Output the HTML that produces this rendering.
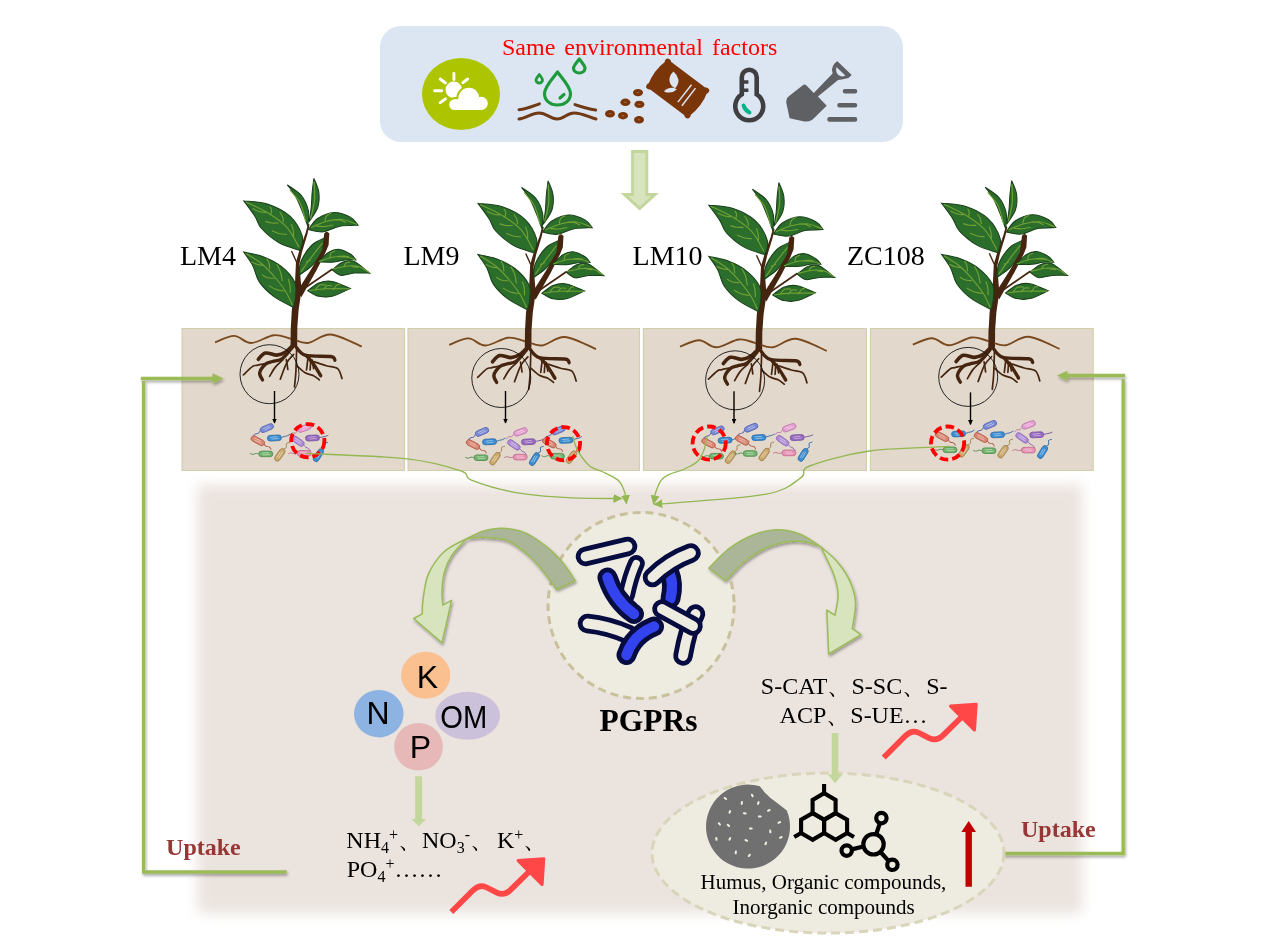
<!DOCTYPE html>
<html><head><meta charset="utf-8"><style>
html,body{margin:0;padding:0;background:#fff;}
svg{display:block;will-change:transform;}
text{font-family:"Liberation Serif",serif;}
.sans{font-family:"Liberation Sans",sans-serif;}
</style></head><body>
<svg width="1269" height="952" viewBox="0 0 1269 952">
<defs>
<filter id="soft" x="-5%" y="-5%" width="110%" height="110%"><feGaussianBlur stdDeviation="6.5"/></filter>
<filter id="shad" x="-20%" y="-20%" width="140%" height="140%"><feGaussianBlur in="SourceAlpha" stdDeviation="1.6"/><feOffset dx="1.2" dy="2.2"/><feComponentTransfer><feFuncA type="linear" slope="0.35"/></feComponentTransfer><feMerge><feMergeNode/><feMergeNode in="SourceGraphic"/></feMerge></filter>

<marker id="ah" viewBox="0 0 10 10" refX="9" refY="5" markerWidth="5" markerHeight="5" markerUnits="userSpaceOnUse" orient="auto"><path d="M0,0 L10,5 L0,10 Z" fill="#000"/></marker>
<marker id="gah" viewBox="0 0 10 10" refX="9.5" refY="5" markerWidth="9" markerHeight="10" markerUnits="userSpaceOnUse" orient="auto"><path d="M0,0 L10,5 L0,10 Z" fill="#93b752"/></marker>
</defs>
<rect x="380" y="26" width="523" height="116" rx="21" fill="#dce6f2"/>
<text x="502" y="55.4" font-size="24" fill="#ff0000" style="word-spacing:3px">Same environmental factors</text>
<ellipse cx="461" cy="94" rx="39" ry="36" fill="#adc500"/>
<circle cx="453.8" cy="89.8" r="8.3" fill="#ffffff"/>
<path d="M453.9,73.4 L453.9,79.6 M434.6,90.8 L441.7,90.8 M440.2,79 L445.5,83 M467.7,79 L462.9,82.6 M440.2,102.7 L445.5,98.8" stroke="#ffffff" stroke-width="2.9" stroke-linecap="round" fill="none"/>
<g fill="#adc500"><circle cx="468.9" cy="98.4" r="12.6"/><circle cx="481.2" cy="103.4" r="8.6"/><circle cx="454.6" cy="104.6" r="7.4"/><rect x="452.6" y="97.2" width="30.6" height="14.8" rx="2.0"/></g>
<g fill="#ffffff"><circle cx="468.9" cy="98.4" r="10.6"/><circle cx="481.2" cy="103.4" r="6.6"/><circle cx="454.6" cy="104.6" r="5.4"/><rect x="454.6" y="99.2" width="26.6" height="10.8" rx="0"/></g>
<g fill="none" stroke="#1e9a3c" stroke-width="3.2" stroke-linecap="round" stroke-linejoin="round">
<path d="M557.5,72 C552,79 544.5,87 544.5,93.5 C544.5,100.5 550,105 557.5,105 C565,105 570.5,100.5 570.5,93.5 C570.5,87 563,79 557.5,72 Z"/>
<path d="M560,98 L564,94.5" />
<path d="M579.3,59 C576,63 573.5,66 573.5,68 C573.5,71 576,73 579.3,73 C582.5,73 585,71 585,68 C585,66 582.5,63 579.3,59 Z"/>
<path d="M539.3,74.5 C537.5,77 536,78.5 536,80 C536,81.8 537.5,83 539.3,83 C541,83 542.5,81.8 542.5,80 C542.5,78.5 541,77 539.3,74.5 Z" stroke-width="2.8"/>
</g>
<g fill="none" stroke="#703a16" stroke-width="3" stroke-linecap="round">
<path d="M519,109.7 C526,109 532,106.5 539.4,103.8"/>
<path d="M575,104.6 C582,107 589,109 595.7,110"/>
<path d="M519,119 C526,118 532,113 539,113 C547,113 550,119 557,119 C564,119 567,113 574,113 C583,113 589,117.5 596,119"/>
</g>
<g fill="#7a3508">
<ellipse cx="638" cy="92.6" rx="5" ry="3.7"/><ellipse cx="638" cy="92.6" rx="1.4" ry="0.7" fill="#9a6a48"/>
<ellipse cx="625.4" cy="102.3" rx="5" ry="3.7"/><ellipse cx="625.4" cy="102.3" rx="1.4" ry="0.7" fill="#9a6a48"/>
<ellipse cx="639.4" cy="104.4" rx="5" ry="3.7"/><ellipse cx="639.4" cy="104.4" rx="1.4" ry="0.7" fill="#9a6a48"/>
<ellipse cx="610" cy="113.8" rx="5" ry="3.7"/><ellipse cx="610" cy="113.8" rx="1.4" ry="0.7" fill="#9a6a48"/>
<ellipse cx="623" cy="115.7" rx="5" ry="3.7"/><ellipse cx="623" cy="115.7" rx="1.4" ry="0.7" fill="#9a6a48"/>
<ellipse cx="639" cy="119.8" rx="5" ry="3.7"/><ellipse cx="639" cy="119.8" rx="1.4" ry="0.7" fill="#9a6a48"/>
</g>
<g transform="translate(677.7,88.5) rotate(37)">
<path d="M-23.5,-15 L23.5,-15 Q28,0 23.5,15 L-23.5,15 Q-28,0 -23.5,-15 Z" fill="#7a3508" stroke="#7a3508" stroke-width="4.5" stroke-linejoin="round"/>
<circle cx="-24" cy="-15.5" r="3" fill="#7a3508"/><circle cx="-24" cy="15.5" r="3" fill="#7a3508"/><circle cx="24" cy="-15.5" r="3" fill="#7a3508"/><circle cx="24" cy="15.5" r="3" fill="#7a3508"/>
</g>
<path d="M673.5,71.5 Q668.5,76 669.6,81.5 Q670.5,86 675.3,88.3 Q678.8,84 678.4,79.5 Q677.5,75 673.5,71.5 Z" fill="#dce6f2"/>
<path d="M663.9,91.4 Q667.5,87 674,87.8 L676.8,89.6 Q671.5,94.5 663.9,91.4 Z" fill="#dce6f2"/>
<path d="M677.9,102.1 L691.5,84.8 M681.9,105.7 L695.5,88.1" stroke="#dce6f2" stroke-width="1.5"/>
<g fill="none" stroke="#3f3f42" stroke-width="4.6" stroke-linecap="round">
<path d="M741.8,94.4 L741.8,77.2 A7.45,7.45 0 0 1 756.7,77.2 L756.7,94.4 A14,14 0 1 1 741.8,94.4 Z"/>
<path d="M743.5,82 L748.4,82 M743.5,90.2 L748.4,90.2" stroke-width="3.4" stroke-linecap="butt"/>
</g>
<path d="M743.6,105.5 Q745,110.5 749.5,112.5" fill="none" stroke="#00b386" stroke-width="4" stroke-linecap="round"/>
<path d="M803.5,84.8 Q805,84 806.5,85.5 L813.8,92.9 L832.6,73.4 Q831.5,70 832.2,68.2 Q833.5,63.5 837.4,61.25 L851.7,74.9 Q849,78.2 846.2,78.5 Q841.5,79.8 838.1,80 L817.9,96.5 L826.7,105.7 L812.4,119.7 Q808.5,122 804.3,121.5 L789.6,118.2 L786.3,102.8 Q786,98.5 788.8,96.2 Z M836.3,67.1 L845.4,75.6 Q843,76.8 841,76.3 Q837.5,75.5 836.6,72.6 Q835.8,69.5 836.3,67.1 Z" fill="#5f6064" fill-rule="evenodd"/>
<path d="M845,91.3 L855,91.3 M839.5,105.2 L855,105.2 M829.5,119.4 L855,119.4" stroke="#5f6064" stroke-width="4.6" stroke-linecap="round"/>
<path d="M632.6,151.6 L646.8,151.6 L646.8,194.5 L655,194.5 L639.7,208.5 L624.5,194.5 L632.6,194.5 Z" fill="#d7e4bd" stroke="#c3d69b" stroke-width="3"/>
<text x="180" y="264.6" font-size="28">LM4</text>
<text x="403.5" y="265.3" font-size="28">LM9</text>
<text x="632.6" y="265" font-size="28">LM10</text>
<text x="847" y="265" font-size="28">ZC108</text>
<rect x="197.5" y="485" width="884.5" height="428" fill="#ebe3de" filter="url(#soft)"/>
<rect x="182" y="328.5" width="222.5" height="142" fill="#e3d8cc" stroke="#cdd0ab" stroke-width="1.1"/>
<rect x="408" y="328.5" width="231.5" height="142" fill="#e3d8cc" stroke="#cdd0ab" stroke-width="1.1"/>
<rect x="643.4" y="328.5" width="223.1" height="142" fill="#e3d8cc" stroke="#cdd0ab" stroke-width="1.1"/>
<rect x="870.4" y="328.5" width="222.8" height="142" fill="#e3d8cc" stroke="#cdd0ab" stroke-width="1.1"/>
<g transform="translate(0,0)"><path d="M290.6,345 L290.8,328 L291.8,310 L294.5,293 L296,262 L299.5,250 L305.6,233 L308,224 L309.6,224.6 L307.5,234 L302,252 L299.4,264 L301.5,290 L298.6,310 L297.3,328 L297.2,345 Z" fill="#45250f"/>
<path d="M300.5,291 L332.5,269" stroke="#45250f" stroke-width="1.7" fill="none"/>
<path d="M296.5,262 L291.5,251" stroke="#45250f" stroke-width="1.4" fill="none"/>
<path d="M243.8,200.9 C247.9,201.4 260.4,201.6 268.1,204.2 C275.8,206.8 284.5,211 290.2,216.3 C295.9,221.6 300.6,230.5 302.3,236.2 C304,241.9 300.5,248.1 300.1,250.5 L300.1,250.5 C296.6,249.2 285.5,246.5 279.1,242.8 C272.7,239.1 265.5,232.9 261.5,228.5 C257.5,224.1 257.9,220.9 254.9,216.3 C252,211.7 245.7,203.5 243.8,200.9 Z" fill="#2b6e2b" stroke="#19401a" stroke-width="1.05"/>
<path d="M287.4,184.9 C289.7,186.7 297.7,191.1 301.2,195.4 C304.7,199.7 307.3,205.7 308.4,210.8 C309.5,216 307.9,223.7 307.8,226.3 L307.8,226.3 C307.1,224.3 305.4,219.1 303.4,214.1 C301.4,209.1 298.4,201.4 295.7,196.5 C293,191.6 288.8,186.8 287.4,184.9 Z" fill="#2b6e2b" stroke="#19401a" stroke-width="1.05"/>
<path d="M313.9,178.3 C314.7,180.6 318.2,187.2 318.8,192.1 C319.4,197 319.4,202.5 317.7,207.5 C316,212.5 310.4,219.5 308.9,221.9 L308.9,221.9 C309.3,219.7 310.6,213.6 311.1,208.6 C311.7,203.6 311.7,197.1 312.2,192.1 C312.7,187.1 313.6,180.6 313.9,178.3 Z" fill="#2b6e2b" stroke="#19401a" stroke-width="1.05"/>
<path d="M325.8,237.5 C323.5,238.8 316.1,241.1 312,245 C307.9,248.9 303.4,255.9 301.2,261 C299,266.1 299.4,272.9 299,275.3 L299,275.3 C301.2,273.6 308.4,269.3 312.2,265.4 C316,261.5 319.7,256.6 322,252 C324.3,247.3 325.2,239.9 325.8,237.5 Z" fill="#2b6e2b" stroke="#19401a" stroke-width="1.05"/>
<path d="M243.8,252.1 C246.9,252.8 256.4,254.1 262.6,256.5 C268.9,258.9 276,262.3 281.3,266.5 C286.6,270.7 292.2,277.1 294.6,281.9 C297,286.7 295.9,291 295.7,295.2 C295.5,299.4 293.9,305.3 293.5,307.3 L293.5,307.3 C290.2,305.5 279.3,300.5 273.6,296.3 C267.9,292.1 262.8,287 259.3,281.9 C255.8,276.8 255.3,270.4 252.7,265.4 C250.1,260.4 245.3,254.3 243.8,252.1 Z" fill="#2b6e2b" stroke="#19401a" stroke-width="1.05"/>
<path d="M296.5,292.5 L312.2,267.6 L322.2,249.9 L324.2,233.5 Q326.7,229.8 329.3,233.5 L328.6,245 L325.7,252.1 L316.8,269.8 L301.5,297 Z" fill="#45250f"/>
<path d="M358,225.2 C356.8,223.9 354.8,219.5 350.8,217.4 C346.9,215.3 339.8,212.3 334.3,212.5 C328.8,212.7 322,215.7 317.7,218.5 C313.4,221.3 309.9,227.8 308.4,229.6 L308.4,229.6 C310.9,230 318.1,232.4 323.3,231.8 C328.5,231.2 334,227.4 339.8,226.3 C345.6,225.2 355,225.4 358,225.2 Z" fill="#2b6e2b" stroke="#19401a" stroke-width="1.05"/>
<path d="M355.8,259.9 C355,259 353.5,256.1 350.8,254.3 C348.1,252.6 343.5,249.8 339.8,249.4 C336.1,249 332.4,250 328.8,252.1 C325.2,254.2 320.1,260.4 318.3,262 L318.3,262 C321,262 329.8,262.4 334.3,262 C338.8,261.6 341.7,260.2 345.3,259.9 C348.9,259.5 354.1,259.9 355.8,259.9 Z" fill="#2b6e2b" stroke="#19401a" stroke-width="1.05"/>
<path d="M369.6,273.1 C367,271.2 358.6,263.3 354.2,261.5 C349.8,259.7 346.8,260.7 343.1,262.1 C339.4,263.5 333.9,268.5 332.1,269.8 L332.1,269.8 C333.6,270.7 337.2,274.8 340.9,275.3 C344.6,275.9 349.4,273.5 354.2,273.1 C359,272.7 367,273.1 369.6,273.1 Z" fill="#2b6e2b" stroke="#19401a" stroke-width="1.05"/>
<path d="M350.3,288.5 C347.3,287.3 337.4,282.3 332.1,281.4 C326.9,280.5 322.9,281.4 318.8,283 C314.8,284.6 309.6,289.4 307.8,290.7 L307.8,290.7 C309.6,291.6 314.8,295.4 318.8,296.3 C322.9,297.2 326.9,297.6 332.1,296.3 C337.4,295 347.3,289.8 350.3,288.5 Z" fill="#2b6e2b" stroke="#19401a" stroke-width="1.05"/>
<path d="M246,202 C249.7,203.8 261.3,208.8 268.1,213 C274.9,217.2 281.8,221.7 286.9,227.4 C292,233.1 297,243.9 299,247.2 M252.7,208.6 C253.8,209.1 256.8,210.8 259,211.5 C261.2,212.2 264.8,212.3 265.9,212.5 M265.3,221.3 C266.4,221.6 269.8,222.7 272,223 C274.2,223.3 277.5,223 278.6,223 M272,230.7 C273.2,231.2 276.5,232.9 279,233.5 C281.5,234.1 285.6,234.3 286.9,234.5 M269.8,206.4 C270.1,207 271.3,208.7 271.5,210 C271.7,211.3 271,213.4 270.9,214.1 M279.7,211.9 C280.2,212.7 281.9,214.8 282.5,216.5 C283.1,218.2 283.3,221 283.5,221.9 M291.3,224.1 C291.6,225.1 292.8,228 293.2,230 C293.6,232 293.4,235.2 293.5,236.2 M246,253.5 C248.7,255.2 257,259.8 262,264 C267,268.2 272,273.8 276,278.5 C280,283.2 283.3,287.6 286,292 C288.7,296.4 291.3,302.9 292.4,305.1 M251.5,262.1 C252.5,262.5 255.5,263.9 257.5,264.5 C259.5,265.1 262.7,265.2 263.7,265.4 M262.1,274.7 C262.9,275.2 265,276.9 267,277.5 C269,278.1 273.1,278.3 274.3,278.5 M268.9,285.7 C270.1,286.3 273.4,288.6 276,289.5 C278.6,290.4 283,290.8 284.4,291.1 M266.8,258.4 C267.2,259.2 268.5,261.2 269,263 C269.5,264.8 269.6,267.9 269.7,268.9 M276.8,264.2 C277.4,265.5 279.6,269.2 280.5,272 C281.4,274.8 282,279.5 282.3,281 M288.2,279 C288.5,280.1 289.6,283.2 290,285.5 C290.4,287.8 290.2,291.6 290.3,292.8 M311,227.5 C313.5,226.5 320.8,222.8 326,221.5 C331.2,220.2 336.8,219 342,219.5 C347.2,220 354.5,223.7 357,224.5 M325,221 C325.2,220.2 325.5,217.3 326.5,216 C327.5,214.7 330.2,213.5 331,213 M334,219.5 C335,219.6 338,219.5 340,220 C342,220.5 345,222.1 346,222.5 M316,226 C317.3,226.1 321.2,226.7 324,226.5 C326.8,226.3 331.5,225.2 333,225 M319,261.5 C321.3,260.8 328.5,257.8 333,257 C337.5,256.2 342.3,256.6 346,257 C349.7,257.4 353.5,259.1 355,259.5 M330,258 C330.2,257.2 330.2,254.2 331,253 C331.8,251.8 334.3,251.3 335,251 M338,256.5 C339,256.4 342.2,255.9 344,256 C345.8,256.1 348.2,256.8 349,257 M333,269 C335.5,268.5 343.5,266.3 348,266 C352.5,265.7 356.5,265.9 360,267 C363.5,268.1 367.5,271.6 369,272.5 M344,266.5 C344.3,265.9 345,263.8 346,263 C347,262.2 349.3,262.2 350,262 M352,266.5 C353,266.7 357,267.3 358,267.5 M309,290.7 C311.7,290.4 318.2,289.1 325,288.8 C331.8,288.5 345.7,288.8 349.8,288.8 M315,290.5 C315.8,289.6 317.7,285.9 319.5,285 C321.3,284.1 324.9,284.8 326,284.8 M323,290 C323.7,289.3 325.5,286.5 327,285.8 C328.5,285.1 331.2,285.8 332,285.8 M333,290 C333.7,289.1 335.8,285.7 337,284.8 C338.2,283.9 339.5,284.6 340,284.5 M301,272 C302.5,269.8 306.4,263.8 310,259 C313.6,254.2 320.4,245.7 322.5,243 M306,262 C306.8,261.7 310.2,260.3 311,260 M290,190 C291.7,192.2 297.3,197.7 300,203 C302.7,208.3 305,218.8 306,222 M314,182 C314.1,185 315.1,193.8 314.5,200 C313.9,206.2 311.2,215.8 310.5,219" fill="none" stroke="#72a034" stroke-width="1.15"/><path d="M215,342.3 C218.2,341.2 228.2,335.8 234.2,335.9 C240.2,336 244.6,343.1 251.2,343 C257.8,342.9 267.3,335.9 273.9,335.2 C280.5,334.5 285.2,337.5 290.9,338.8 C296.6,340.1 301.3,343.7 307.9,343 C314.5,342.3 321.6,333.9 330.6,334.5 C339.6,335.1 356.6,344.6 361.8,346.6" fill="none" stroke="#7a4a1e" stroke-width="1.9"/>
<path d="M293.8,328 C293.8,330.8 293.7,341.8 293.7,344.5" fill="none" stroke="#45250f" stroke-width="5.6" stroke-linecap="round" stroke-linejoin="round"/>
<path d="M293.7,344.5 C292.3,345.8 288,350.5 285.2,352.3 C282.4,354.1 280,355 276.7,355.1 C273.4,355.2 268.5,352.3 265.4,353 C262.3,353.7 259.5,358.2 258.3,359.3" fill="none" stroke="#45250f" stroke-width="3.6" stroke-linecap="round" stroke-linejoin="round"/>
<path d="M292.3,347.3 C290.7,349.2 285.7,356.2 282.4,358.6 C279.1,361 275.3,360.6 272.5,361.5 C269.7,362.4 267.5,362.4 265.4,364.3 C263.3,366.2 260.2,370.2 259.7,372.8 C259.2,375.4 262,378.7 262.5,379.9" fill="none" stroke="#45250f" stroke-width="3.4" stroke-linecap="round" stroke-linejoin="round"/>
<path d="M295.3,345.9 C296.9,347.4 299.2,353.3 305.1,355.1 C311,356.9 325.6,355.7 330.6,356.5 C335.6,357.3 334.2,359.5 334.9,360.1" fill="none" stroke="#45250f" stroke-width="3.4" stroke-linecap="round" stroke-linejoin="round"/>
<path d="M306.5,355.8 C307.7,357.2 311.2,361 313.6,364.3 C316,367.6 319.5,373.8 320.7,375.7" fill="none" stroke="#45250f" stroke-width="3.4" stroke-linecap="round" stroke-linejoin="round"/>
<path d="M279.8,360 C277.9,360.5 272,362 268.2,362.9 C264.4,363.8 259.5,364.7 256.9,365.3 C254.3,365.9 254.9,364.8 252.6,366.4 C250.4,368 244.9,373.5 243.4,374.9" fill="none" stroke="#45250f" stroke-width="1.7" stroke-linecap="round"/>
<path d="M282.8,360 C281.6,361.2 277.5,364.4 275.3,367.1 C273.1,369.8 270.6,374.8 269.6,376.4" fill="none" stroke="#45250f" stroke-width="1.7" stroke-linecap="round"/>
<path d="M293.7,354.4 C292.5,355.8 288.9,358.8 286.7,362.9 C284.5,367 281.4,376.5 280.3,379.2" fill="none" stroke="#45250f" stroke-width="1.7" stroke-linecap="round"/>
<path d="M286.3,359.5 C286.6,361.2 287.6,367.8 287.8,369.5" fill="none" stroke="#45250f" stroke-width="1.7" stroke-linecap="round"/>
<path d="M296.6,349.5 C296.5,353.1 296.2,365.1 295.9,371.4 C295.6,377.6 294.7,384.4 294.5,387" fill="none" stroke="#45250f" stroke-width="1.7" stroke-linecap="round"/>
<path d="M313.6,361.5 C315.7,362.2 322.4,364.5 326.4,365.7 C330.4,366.9 335.1,366.5 337.7,368.6 C340.3,370.7 341.3,376.9 342,378.5" fill="none" stroke="#45250f" stroke-width="1.7" stroke-linecap="round"/>
<path d="M296.6,365.7 C298,366.9 302.3,371.1 305.1,372.8 C307.9,374.5 311.2,374.5 313.6,375.7 C316,376.9 318.4,379.2 319.3,379.9" fill="none" stroke="#45250f" stroke-width="1.7" stroke-linecap="round"/>
<path d="M307.9,358.6 C307.7,360.5 306.7,368.1 306.5,370" fill="none" stroke="#45250f" stroke-width="1.7" stroke-linecap="round"/>
<path d="M310.8,360.1 C310.7,361.8 310.2,368.4 310.1,370" fill="none" stroke="#45250f" stroke-width="1.7" stroke-linecap="round"/>
<path d="M312.2,360.1 C312.4,361.5 313.4,367.2 313.6,368.6" fill="none" stroke="#45250f" stroke-width="1.7" stroke-linecap="round"/></g>
<g transform="translate(234.2,2.5)"><path d="M290.6,345 L290.8,328 L291.8,310 L294.5,293 L296,262 L299.5,250 L305.6,233 L308,224 L309.6,224.6 L307.5,234 L302,252 L299.4,264 L301.5,290 L298.6,310 L297.3,328 L297.2,345 Z" fill="#45250f"/>
<path d="M300.5,291 L332.5,269" stroke="#45250f" stroke-width="1.7" fill="none"/>
<path d="M296.5,262 L291.5,251" stroke="#45250f" stroke-width="1.4" fill="none"/>
<path d="M243.8,200.9 C247.9,201.4 260.4,201.6 268.1,204.2 C275.8,206.8 284.5,211 290.2,216.3 C295.9,221.6 300.6,230.5 302.3,236.2 C304,241.9 300.5,248.1 300.1,250.5 L300.1,250.5 C296.6,249.2 285.5,246.5 279.1,242.8 C272.7,239.1 265.5,232.9 261.5,228.5 C257.5,224.1 257.9,220.9 254.9,216.3 C252,211.7 245.7,203.5 243.8,200.9 Z" fill="#2b6e2b" stroke="#19401a" stroke-width="1.05"/>
<path d="M287.4,184.9 C289.7,186.7 297.7,191.1 301.2,195.4 C304.7,199.7 307.3,205.7 308.4,210.8 C309.5,216 307.9,223.7 307.8,226.3 L307.8,226.3 C307.1,224.3 305.4,219.1 303.4,214.1 C301.4,209.1 298.4,201.4 295.7,196.5 C293,191.6 288.8,186.8 287.4,184.9 Z" fill="#2b6e2b" stroke="#19401a" stroke-width="1.05"/>
<path d="M313.9,178.3 C314.7,180.6 318.2,187.2 318.8,192.1 C319.4,197 319.4,202.5 317.7,207.5 C316,212.5 310.4,219.5 308.9,221.9 L308.9,221.9 C309.3,219.7 310.6,213.6 311.1,208.6 C311.7,203.6 311.7,197.1 312.2,192.1 C312.7,187.1 313.6,180.6 313.9,178.3 Z" fill="#2b6e2b" stroke="#19401a" stroke-width="1.05"/>
<path d="M325.8,237.5 C323.5,238.8 316.1,241.1 312,245 C307.9,248.9 303.4,255.9 301.2,261 C299,266.1 299.4,272.9 299,275.3 L299,275.3 C301.2,273.6 308.4,269.3 312.2,265.4 C316,261.5 319.7,256.6 322,252 C324.3,247.3 325.2,239.9 325.8,237.5 Z" fill="#2b6e2b" stroke="#19401a" stroke-width="1.05"/>
<path d="M243.8,252.1 C246.9,252.8 256.4,254.1 262.6,256.5 C268.9,258.9 276,262.3 281.3,266.5 C286.6,270.7 292.2,277.1 294.6,281.9 C297,286.7 295.9,291 295.7,295.2 C295.5,299.4 293.9,305.3 293.5,307.3 L293.5,307.3 C290.2,305.5 279.3,300.5 273.6,296.3 C267.9,292.1 262.8,287 259.3,281.9 C255.8,276.8 255.3,270.4 252.7,265.4 C250.1,260.4 245.3,254.3 243.8,252.1 Z" fill="#2b6e2b" stroke="#19401a" stroke-width="1.05"/>
<path d="M296.5,292.5 L312.2,267.6 L322.2,249.9 L324.2,233.5 Q326.7,229.8 329.3,233.5 L328.6,245 L325.7,252.1 L316.8,269.8 L301.5,297 Z" fill="#45250f"/>
<path d="M358,225.2 C356.8,223.9 354.8,219.5 350.8,217.4 C346.9,215.3 339.8,212.3 334.3,212.5 C328.8,212.7 322,215.7 317.7,218.5 C313.4,221.3 309.9,227.8 308.4,229.6 L308.4,229.6 C310.9,230 318.1,232.4 323.3,231.8 C328.5,231.2 334,227.4 339.8,226.3 C345.6,225.2 355,225.4 358,225.2 Z" fill="#2b6e2b" stroke="#19401a" stroke-width="1.05"/>
<path d="M355.8,259.9 C355,259 353.5,256.1 350.8,254.3 C348.1,252.6 343.5,249.8 339.8,249.4 C336.1,249 332.4,250 328.8,252.1 C325.2,254.2 320.1,260.4 318.3,262 L318.3,262 C321,262 329.8,262.4 334.3,262 C338.8,261.6 341.7,260.2 345.3,259.9 C348.9,259.5 354.1,259.9 355.8,259.9 Z" fill="#2b6e2b" stroke="#19401a" stroke-width="1.05"/>
<path d="M369.6,273.1 C367,271.2 358.6,263.3 354.2,261.5 C349.8,259.7 346.8,260.7 343.1,262.1 C339.4,263.5 333.9,268.5 332.1,269.8 L332.1,269.8 C333.6,270.7 337.2,274.8 340.9,275.3 C344.6,275.9 349.4,273.5 354.2,273.1 C359,272.7 367,273.1 369.6,273.1 Z" fill="#2b6e2b" stroke="#19401a" stroke-width="1.05"/>
<path d="M350.3,288.5 C347.3,287.3 337.4,282.3 332.1,281.4 C326.9,280.5 322.9,281.4 318.8,283 C314.8,284.6 309.6,289.4 307.8,290.7 L307.8,290.7 C309.6,291.6 314.8,295.4 318.8,296.3 C322.9,297.2 326.9,297.6 332.1,296.3 C337.4,295 347.3,289.8 350.3,288.5 Z" fill="#2b6e2b" stroke="#19401a" stroke-width="1.05"/>
<path d="M246,202 C249.7,203.8 261.3,208.8 268.1,213 C274.9,217.2 281.8,221.7 286.9,227.4 C292,233.1 297,243.9 299,247.2 M252.7,208.6 C253.8,209.1 256.8,210.8 259,211.5 C261.2,212.2 264.8,212.3 265.9,212.5 M265.3,221.3 C266.4,221.6 269.8,222.7 272,223 C274.2,223.3 277.5,223 278.6,223 M272,230.7 C273.2,231.2 276.5,232.9 279,233.5 C281.5,234.1 285.6,234.3 286.9,234.5 M269.8,206.4 C270.1,207 271.3,208.7 271.5,210 C271.7,211.3 271,213.4 270.9,214.1 M279.7,211.9 C280.2,212.7 281.9,214.8 282.5,216.5 C283.1,218.2 283.3,221 283.5,221.9 M291.3,224.1 C291.6,225.1 292.8,228 293.2,230 C293.6,232 293.4,235.2 293.5,236.2 M246,253.5 C248.7,255.2 257,259.8 262,264 C267,268.2 272,273.8 276,278.5 C280,283.2 283.3,287.6 286,292 C288.7,296.4 291.3,302.9 292.4,305.1 M251.5,262.1 C252.5,262.5 255.5,263.9 257.5,264.5 C259.5,265.1 262.7,265.2 263.7,265.4 M262.1,274.7 C262.9,275.2 265,276.9 267,277.5 C269,278.1 273.1,278.3 274.3,278.5 M268.9,285.7 C270.1,286.3 273.4,288.6 276,289.5 C278.6,290.4 283,290.8 284.4,291.1 M266.8,258.4 C267.2,259.2 268.5,261.2 269,263 C269.5,264.8 269.6,267.9 269.7,268.9 M276.8,264.2 C277.4,265.5 279.6,269.2 280.5,272 C281.4,274.8 282,279.5 282.3,281 M288.2,279 C288.5,280.1 289.6,283.2 290,285.5 C290.4,287.8 290.2,291.6 290.3,292.8 M311,227.5 C313.5,226.5 320.8,222.8 326,221.5 C331.2,220.2 336.8,219 342,219.5 C347.2,220 354.5,223.7 357,224.5 M325,221 C325.2,220.2 325.5,217.3 326.5,216 C327.5,214.7 330.2,213.5 331,213 M334,219.5 C335,219.6 338,219.5 340,220 C342,220.5 345,222.1 346,222.5 M316,226 C317.3,226.1 321.2,226.7 324,226.5 C326.8,226.3 331.5,225.2 333,225 M319,261.5 C321.3,260.8 328.5,257.8 333,257 C337.5,256.2 342.3,256.6 346,257 C349.7,257.4 353.5,259.1 355,259.5 M330,258 C330.2,257.2 330.2,254.2 331,253 C331.8,251.8 334.3,251.3 335,251 M338,256.5 C339,256.4 342.2,255.9 344,256 C345.8,256.1 348.2,256.8 349,257 M333,269 C335.5,268.5 343.5,266.3 348,266 C352.5,265.7 356.5,265.9 360,267 C363.5,268.1 367.5,271.6 369,272.5 M344,266.5 C344.3,265.9 345,263.8 346,263 C347,262.2 349.3,262.2 350,262 M352,266.5 C353,266.7 357,267.3 358,267.5 M309,290.7 C311.7,290.4 318.2,289.1 325,288.8 C331.8,288.5 345.7,288.8 349.8,288.8 M315,290.5 C315.8,289.6 317.7,285.9 319.5,285 C321.3,284.1 324.9,284.8 326,284.8 M323,290 C323.7,289.3 325.5,286.5 327,285.8 C328.5,285.1 331.2,285.8 332,285.8 M333,290 C333.7,289.1 335.8,285.7 337,284.8 C338.2,283.9 339.5,284.6 340,284.5 M301,272 C302.5,269.8 306.4,263.8 310,259 C313.6,254.2 320.4,245.7 322.5,243 M306,262 C306.8,261.7 310.2,260.3 311,260 M290,190 C291.7,192.2 297.3,197.7 300,203 C302.7,208.3 305,218.8 306,222 M314,182 C314.1,185 315.1,193.8 314.5,200 C313.9,206.2 311.2,215.8 310.5,219" fill="none" stroke="#72a034" stroke-width="1.15"/><path d="M215,342.3 C218.2,341.2 228.2,335.8 234.2,335.9 C240.2,336 244.6,343.1 251.2,343 C257.8,342.9 267.3,335.9 273.9,335.2 C280.5,334.5 285.2,337.5 290.9,338.8 C296.6,340.1 301.3,343.7 307.9,343 C314.5,342.3 321.6,333.9 330.6,334.5 C339.6,335.1 356.6,344.6 361.8,346.6" fill="none" stroke="#7a4a1e" stroke-width="1.9"/>
<path d="M293.8,328 C293.8,330.8 293.7,341.8 293.7,344.5" fill="none" stroke="#45250f" stroke-width="5.6" stroke-linecap="round" stroke-linejoin="round"/>
<path d="M293.7,344.5 C292.3,345.8 288,350.5 285.2,352.3 C282.4,354.1 280,355 276.7,355.1 C273.4,355.2 268.5,352.3 265.4,353 C262.3,353.7 259.5,358.2 258.3,359.3" fill="none" stroke="#45250f" stroke-width="3.6" stroke-linecap="round" stroke-linejoin="round"/>
<path d="M292.3,347.3 C290.7,349.2 285.7,356.2 282.4,358.6 C279.1,361 275.3,360.6 272.5,361.5 C269.7,362.4 267.5,362.4 265.4,364.3 C263.3,366.2 260.2,370.2 259.7,372.8 C259.2,375.4 262,378.7 262.5,379.9" fill="none" stroke="#45250f" stroke-width="3.4" stroke-linecap="round" stroke-linejoin="round"/>
<path d="M295.3,345.9 C296.9,347.4 299.2,353.3 305.1,355.1 C311,356.9 325.6,355.7 330.6,356.5 C335.6,357.3 334.2,359.5 334.9,360.1" fill="none" stroke="#45250f" stroke-width="3.4" stroke-linecap="round" stroke-linejoin="round"/>
<path d="M306.5,355.8 C307.7,357.2 311.2,361 313.6,364.3 C316,367.6 319.5,373.8 320.7,375.7" fill="none" stroke="#45250f" stroke-width="3.4" stroke-linecap="round" stroke-linejoin="round"/>
<path d="M279.8,360 C277.9,360.5 272,362 268.2,362.9 C264.4,363.8 259.5,364.7 256.9,365.3 C254.3,365.9 254.9,364.8 252.6,366.4 C250.4,368 244.9,373.5 243.4,374.9" fill="none" stroke="#45250f" stroke-width="1.7" stroke-linecap="round"/>
<path d="M282.8,360 C281.6,361.2 277.5,364.4 275.3,367.1 C273.1,369.8 270.6,374.8 269.6,376.4" fill="none" stroke="#45250f" stroke-width="1.7" stroke-linecap="round"/>
<path d="M293.7,354.4 C292.5,355.8 288.9,358.8 286.7,362.9 C284.5,367 281.4,376.5 280.3,379.2" fill="none" stroke="#45250f" stroke-width="1.7" stroke-linecap="round"/>
<path d="M286.3,359.5 C286.6,361.2 287.6,367.8 287.8,369.5" fill="none" stroke="#45250f" stroke-width="1.7" stroke-linecap="round"/>
<path d="M296.6,349.5 C296.5,353.1 296.2,365.1 295.9,371.4 C295.6,377.6 294.7,384.4 294.5,387" fill="none" stroke="#45250f" stroke-width="1.7" stroke-linecap="round"/>
<path d="M313.6,361.5 C315.7,362.2 322.4,364.5 326.4,365.7 C330.4,366.9 335.1,366.5 337.7,368.6 C340.3,370.7 341.3,376.9 342,378.5" fill="none" stroke="#45250f" stroke-width="1.7" stroke-linecap="round"/>
<path d="M296.6,365.7 C298,366.9 302.3,371.1 305.1,372.8 C307.9,374.5 311.2,374.5 313.6,375.7 C316,376.9 318.4,379.2 319.3,379.9" fill="none" stroke="#45250f" stroke-width="1.7" stroke-linecap="round"/>
<path d="M307.9,358.6 C307.7,360.5 306.7,368.1 306.5,370" fill="none" stroke="#45250f" stroke-width="1.7" stroke-linecap="round"/>
<path d="M310.8,360.1 C310.7,361.8 310.2,368.4 310.1,370" fill="none" stroke="#45250f" stroke-width="1.7" stroke-linecap="round"/>
<path d="M312.2,360.1 C312.4,361.5 313.4,367.2 313.6,368.6" fill="none" stroke="#45250f" stroke-width="1.7" stroke-linecap="round"/></g>
<g transform="translate(465,4.3)"><path d="M290.6,345 L290.8,328 L291.8,310 L294.5,293 L296,262 L299.5,250 L305.6,233 L308,224 L309.6,224.6 L307.5,234 L302,252 L299.4,264 L301.5,290 L298.6,310 L297.3,328 L297.2,345 Z" fill="#45250f"/>
<path d="M300.5,291 L332.5,269" stroke="#45250f" stroke-width="1.7" fill="none"/>
<path d="M296.5,262 L291.5,251" stroke="#45250f" stroke-width="1.4" fill="none"/>
<path d="M243.8,200.9 C247.9,201.4 260.4,201.6 268.1,204.2 C275.8,206.8 284.5,211 290.2,216.3 C295.9,221.6 300.6,230.5 302.3,236.2 C304,241.9 300.5,248.1 300.1,250.5 L300.1,250.5 C296.6,249.2 285.5,246.5 279.1,242.8 C272.7,239.1 265.5,232.9 261.5,228.5 C257.5,224.1 257.9,220.9 254.9,216.3 C252,211.7 245.7,203.5 243.8,200.9 Z" fill="#2b6e2b" stroke="#19401a" stroke-width="1.05"/>
<path d="M287.4,184.9 C289.7,186.7 297.7,191.1 301.2,195.4 C304.7,199.7 307.3,205.7 308.4,210.8 C309.5,216 307.9,223.7 307.8,226.3 L307.8,226.3 C307.1,224.3 305.4,219.1 303.4,214.1 C301.4,209.1 298.4,201.4 295.7,196.5 C293,191.6 288.8,186.8 287.4,184.9 Z" fill="#2b6e2b" stroke="#19401a" stroke-width="1.05"/>
<path d="M313.9,178.3 C314.7,180.6 318.2,187.2 318.8,192.1 C319.4,197 319.4,202.5 317.7,207.5 C316,212.5 310.4,219.5 308.9,221.9 L308.9,221.9 C309.3,219.7 310.6,213.6 311.1,208.6 C311.7,203.6 311.7,197.1 312.2,192.1 C312.7,187.1 313.6,180.6 313.9,178.3 Z" fill="#2b6e2b" stroke="#19401a" stroke-width="1.05"/>
<path d="M325.8,237.5 C323.5,238.8 316.1,241.1 312,245 C307.9,248.9 303.4,255.9 301.2,261 C299,266.1 299.4,272.9 299,275.3 L299,275.3 C301.2,273.6 308.4,269.3 312.2,265.4 C316,261.5 319.7,256.6 322,252 C324.3,247.3 325.2,239.9 325.8,237.5 Z" fill="#2b6e2b" stroke="#19401a" stroke-width="1.05"/>
<path d="M243.8,252.1 C246.9,252.8 256.4,254.1 262.6,256.5 C268.9,258.9 276,262.3 281.3,266.5 C286.6,270.7 292.2,277.1 294.6,281.9 C297,286.7 295.9,291 295.7,295.2 C295.5,299.4 293.9,305.3 293.5,307.3 L293.5,307.3 C290.2,305.5 279.3,300.5 273.6,296.3 C267.9,292.1 262.8,287 259.3,281.9 C255.8,276.8 255.3,270.4 252.7,265.4 C250.1,260.4 245.3,254.3 243.8,252.1 Z" fill="#2b6e2b" stroke="#19401a" stroke-width="1.05"/>
<path d="M296.5,292.5 L312.2,267.6 L322.2,249.9 L324.2,233.5 Q326.7,229.8 329.3,233.5 L328.6,245 L325.7,252.1 L316.8,269.8 L301.5,297 Z" fill="#45250f"/>
<path d="M358,225.2 C356.8,223.9 354.8,219.5 350.8,217.4 C346.9,215.3 339.8,212.3 334.3,212.5 C328.8,212.7 322,215.7 317.7,218.5 C313.4,221.3 309.9,227.8 308.4,229.6 L308.4,229.6 C310.9,230 318.1,232.4 323.3,231.8 C328.5,231.2 334,227.4 339.8,226.3 C345.6,225.2 355,225.4 358,225.2 Z" fill="#2b6e2b" stroke="#19401a" stroke-width="1.05"/>
<path d="M355.8,259.9 C355,259 353.5,256.1 350.8,254.3 C348.1,252.6 343.5,249.8 339.8,249.4 C336.1,249 332.4,250 328.8,252.1 C325.2,254.2 320.1,260.4 318.3,262 L318.3,262 C321,262 329.8,262.4 334.3,262 C338.8,261.6 341.7,260.2 345.3,259.9 C348.9,259.5 354.1,259.9 355.8,259.9 Z" fill="#2b6e2b" stroke="#19401a" stroke-width="1.05"/>
<path d="M369.6,273.1 C367,271.2 358.6,263.3 354.2,261.5 C349.8,259.7 346.8,260.7 343.1,262.1 C339.4,263.5 333.9,268.5 332.1,269.8 L332.1,269.8 C333.6,270.7 337.2,274.8 340.9,275.3 C344.6,275.9 349.4,273.5 354.2,273.1 C359,272.7 367,273.1 369.6,273.1 Z" fill="#2b6e2b" stroke="#19401a" stroke-width="1.05"/>
<path d="M350.3,288.5 C347.3,287.3 337.4,282.3 332.1,281.4 C326.9,280.5 322.9,281.4 318.8,283 C314.8,284.6 309.6,289.4 307.8,290.7 L307.8,290.7 C309.6,291.6 314.8,295.4 318.8,296.3 C322.9,297.2 326.9,297.6 332.1,296.3 C337.4,295 347.3,289.8 350.3,288.5 Z" fill="#2b6e2b" stroke="#19401a" stroke-width="1.05"/>
<path d="M246,202 C249.7,203.8 261.3,208.8 268.1,213 C274.9,217.2 281.8,221.7 286.9,227.4 C292,233.1 297,243.9 299,247.2 M252.7,208.6 C253.8,209.1 256.8,210.8 259,211.5 C261.2,212.2 264.8,212.3 265.9,212.5 M265.3,221.3 C266.4,221.6 269.8,222.7 272,223 C274.2,223.3 277.5,223 278.6,223 M272,230.7 C273.2,231.2 276.5,232.9 279,233.5 C281.5,234.1 285.6,234.3 286.9,234.5 M269.8,206.4 C270.1,207 271.3,208.7 271.5,210 C271.7,211.3 271,213.4 270.9,214.1 M279.7,211.9 C280.2,212.7 281.9,214.8 282.5,216.5 C283.1,218.2 283.3,221 283.5,221.9 M291.3,224.1 C291.6,225.1 292.8,228 293.2,230 C293.6,232 293.4,235.2 293.5,236.2 M246,253.5 C248.7,255.2 257,259.8 262,264 C267,268.2 272,273.8 276,278.5 C280,283.2 283.3,287.6 286,292 C288.7,296.4 291.3,302.9 292.4,305.1 M251.5,262.1 C252.5,262.5 255.5,263.9 257.5,264.5 C259.5,265.1 262.7,265.2 263.7,265.4 M262.1,274.7 C262.9,275.2 265,276.9 267,277.5 C269,278.1 273.1,278.3 274.3,278.5 M268.9,285.7 C270.1,286.3 273.4,288.6 276,289.5 C278.6,290.4 283,290.8 284.4,291.1 M266.8,258.4 C267.2,259.2 268.5,261.2 269,263 C269.5,264.8 269.6,267.9 269.7,268.9 M276.8,264.2 C277.4,265.5 279.6,269.2 280.5,272 C281.4,274.8 282,279.5 282.3,281 M288.2,279 C288.5,280.1 289.6,283.2 290,285.5 C290.4,287.8 290.2,291.6 290.3,292.8 M311,227.5 C313.5,226.5 320.8,222.8 326,221.5 C331.2,220.2 336.8,219 342,219.5 C347.2,220 354.5,223.7 357,224.5 M325,221 C325.2,220.2 325.5,217.3 326.5,216 C327.5,214.7 330.2,213.5 331,213 M334,219.5 C335,219.6 338,219.5 340,220 C342,220.5 345,222.1 346,222.5 M316,226 C317.3,226.1 321.2,226.7 324,226.5 C326.8,226.3 331.5,225.2 333,225 M319,261.5 C321.3,260.8 328.5,257.8 333,257 C337.5,256.2 342.3,256.6 346,257 C349.7,257.4 353.5,259.1 355,259.5 M330,258 C330.2,257.2 330.2,254.2 331,253 C331.8,251.8 334.3,251.3 335,251 M338,256.5 C339,256.4 342.2,255.9 344,256 C345.8,256.1 348.2,256.8 349,257 M333,269 C335.5,268.5 343.5,266.3 348,266 C352.5,265.7 356.5,265.9 360,267 C363.5,268.1 367.5,271.6 369,272.5 M344,266.5 C344.3,265.9 345,263.8 346,263 C347,262.2 349.3,262.2 350,262 M352,266.5 C353,266.7 357,267.3 358,267.5 M309,290.7 C311.7,290.4 318.2,289.1 325,288.8 C331.8,288.5 345.7,288.8 349.8,288.8 M315,290.5 C315.8,289.6 317.7,285.9 319.5,285 C321.3,284.1 324.9,284.8 326,284.8 M323,290 C323.7,289.3 325.5,286.5 327,285.8 C328.5,285.1 331.2,285.8 332,285.8 M333,290 C333.7,289.1 335.8,285.7 337,284.8 C338.2,283.9 339.5,284.6 340,284.5 M301,272 C302.5,269.8 306.4,263.8 310,259 C313.6,254.2 320.4,245.7 322.5,243 M306,262 C306.8,261.7 310.2,260.3 311,260 M290,190 C291.7,192.2 297.3,197.7 300,203 C302.7,208.3 305,218.8 306,222 M314,182 C314.1,185 315.1,193.8 314.5,200 C313.9,206.2 311.2,215.8 310.5,219" fill="none" stroke="#72a034" stroke-width="1.15"/><path d="M215,342.3 C218.2,341.2 228.2,335.8 234.2,335.9 C240.2,336 244.6,343.1 251.2,343 C257.8,342.9 267.3,335.9 273.9,335.2 C280.5,334.5 285.2,337.5 290.9,338.8 C296.6,340.1 301.3,343.7 307.9,343 C314.5,342.3 321.6,333.9 330.6,334.5 C339.6,335.1 356.6,344.6 361.8,346.6" fill="none" stroke="#7a4a1e" stroke-width="1.9"/>
<path d="M293.8,328 C293.8,330.8 293.7,341.8 293.7,344.5" fill="none" stroke="#45250f" stroke-width="5.6" stroke-linecap="round" stroke-linejoin="round"/>
<path d="M293.7,344.5 C292.3,345.8 288,350.5 285.2,352.3 C282.4,354.1 280,355 276.7,355.1 C273.4,355.2 268.5,352.3 265.4,353 C262.3,353.7 259.5,358.2 258.3,359.3" fill="none" stroke="#45250f" stroke-width="3.6" stroke-linecap="round" stroke-linejoin="round"/>
<path d="M292.3,347.3 C290.7,349.2 285.7,356.2 282.4,358.6 C279.1,361 275.3,360.6 272.5,361.5 C269.7,362.4 267.5,362.4 265.4,364.3 C263.3,366.2 260.2,370.2 259.7,372.8 C259.2,375.4 262,378.7 262.5,379.9" fill="none" stroke="#45250f" stroke-width="3.4" stroke-linecap="round" stroke-linejoin="round"/>
<path d="M295.3,345.9 C296.9,347.4 299.2,353.3 305.1,355.1 C311,356.9 325.6,355.7 330.6,356.5 C335.6,357.3 334.2,359.5 334.9,360.1" fill="none" stroke="#45250f" stroke-width="3.4" stroke-linecap="round" stroke-linejoin="round"/>
<path d="M306.5,355.8 C307.7,357.2 311.2,361 313.6,364.3 C316,367.6 319.5,373.8 320.7,375.7" fill="none" stroke="#45250f" stroke-width="3.4" stroke-linecap="round" stroke-linejoin="round"/>
<path d="M279.8,360 C277.9,360.5 272,362 268.2,362.9 C264.4,363.8 259.5,364.7 256.9,365.3 C254.3,365.9 254.9,364.8 252.6,366.4 C250.4,368 244.9,373.5 243.4,374.9" fill="none" stroke="#45250f" stroke-width="1.7" stroke-linecap="round"/>
<path d="M282.8,360 C281.6,361.2 277.5,364.4 275.3,367.1 C273.1,369.8 270.6,374.8 269.6,376.4" fill="none" stroke="#45250f" stroke-width="1.7" stroke-linecap="round"/>
<path d="M293.7,354.4 C292.5,355.8 288.9,358.8 286.7,362.9 C284.5,367 281.4,376.5 280.3,379.2" fill="none" stroke="#45250f" stroke-width="1.7" stroke-linecap="round"/>
<path d="M286.3,359.5 C286.6,361.2 287.6,367.8 287.8,369.5" fill="none" stroke="#45250f" stroke-width="1.7" stroke-linecap="round"/>
<path d="M296.6,349.5 C296.5,353.1 296.2,365.1 295.9,371.4 C295.6,377.6 294.7,384.4 294.5,387" fill="none" stroke="#45250f" stroke-width="1.7" stroke-linecap="round"/>
<path d="M313.6,361.5 C315.7,362.2 322.4,364.5 326.4,365.7 C330.4,366.9 335.1,366.5 337.7,368.6 C340.3,370.7 341.3,376.9 342,378.5" fill="none" stroke="#45250f" stroke-width="1.7" stroke-linecap="round"/>
<path d="M296.6,365.7 C298,366.9 302.3,371.1 305.1,372.8 C307.9,374.5 311.2,374.5 313.6,375.7 C316,376.9 318.4,379.2 319.3,379.9" fill="none" stroke="#45250f" stroke-width="1.7" stroke-linecap="round"/>
<path d="M307.9,358.6 C307.7,360.5 306.7,368.1 306.5,370" fill="none" stroke="#45250f" stroke-width="1.7" stroke-linecap="round"/>
<path d="M310.8,360.1 C310.7,361.8 310.2,368.4 310.1,370" fill="none" stroke="#45250f" stroke-width="1.7" stroke-linecap="round"/>
<path d="M312.2,360.1 C312.4,361.5 313.4,367.2 313.6,368.6" fill="none" stroke="#45250f" stroke-width="1.7" stroke-linecap="round"/></g>
<g transform="translate(697.8,2.3)"><path d="M290.6,345 L290.8,328 L291.8,310 L294.5,293 L296,262 L299.5,250 L305.6,233 L308,224 L309.6,224.6 L307.5,234 L302,252 L299.4,264 L301.5,290 L298.6,310 L297.3,328 L297.2,345 Z" fill="#45250f"/>
<path d="M300.5,291 L332.5,269" stroke="#45250f" stroke-width="1.7" fill="none"/>
<path d="M296.5,262 L291.5,251" stroke="#45250f" stroke-width="1.4" fill="none"/>
<path d="M243.8,200.9 C247.9,201.4 260.4,201.6 268.1,204.2 C275.8,206.8 284.5,211 290.2,216.3 C295.9,221.6 300.6,230.5 302.3,236.2 C304,241.9 300.5,248.1 300.1,250.5 L300.1,250.5 C296.6,249.2 285.5,246.5 279.1,242.8 C272.7,239.1 265.5,232.9 261.5,228.5 C257.5,224.1 257.9,220.9 254.9,216.3 C252,211.7 245.7,203.5 243.8,200.9 Z" fill="#2b6e2b" stroke="#19401a" stroke-width="1.05"/>
<path d="M287.4,184.9 C289.7,186.7 297.7,191.1 301.2,195.4 C304.7,199.7 307.3,205.7 308.4,210.8 C309.5,216 307.9,223.7 307.8,226.3 L307.8,226.3 C307.1,224.3 305.4,219.1 303.4,214.1 C301.4,209.1 298.4,201.4 295.7,196.5 C293,191.6 288.8,186.8 287.4,184.9 Z" fill="#2b6e2b" stroke="#19401a" stroke-width="1.05"/>
<path d="M313.9,178.3 C314.7,180.6 318.2,187.2 318.8,192.1 C319.4,197 319.4,202.5 317.7,207.5 C316,212.5 310.4,219.5 308.9,221.9 L308.9,221.9 C309.3,219.7 310.6,213.6 311.1,208.6 C311.7,203.6 311.7,197.1 312.2,192.1 C312.7,187.1 313.6,180.6 313.9,178.3 Z" fill="#2b6e2b" stroke="#19401a" stroke-width="1.05"/>
<path d="M325.8,237.5 C323.5,238.8 316.1,241.1 312,245 C307.9,248.9 303.4,255.9 301.2,261 C299,266.1 299.4,272.9 299,275.3 L299,275.3 C301.2,273.6 308.4,269.3 312.2,265.4 C316,261.5 319.7,256.6 322,252 C324.3,247.3 325.2,239.9 325.8,237.5 Z" fill="#2b6e2b" stroke="#19401a" stroke-width="1.05"/>
<path d="M243.8,252.1 C246.9,252.8 256.4,254.1 262.6,256.5 C268.9,258.9 276,262.3 281.3,266.5 C286.6,270.7 292.2,277.1 294.6,281.9 C297,286.7 295.9,291 295.7,295.2 C295.5,299.4 293.9,305.3 293.5,307.3 L293.5,307.3 C290.2,305.5 279.3,300.5 273.6,296.3 C267.9,292.1 262.8,287 259.3,281.9 C255.8,276.8 255.3,270.4 252.7,265.4 C250.1,260.4 245.3,254.3 243.8,252.1 Z" fill="#2b6e2b" stroke="#19401a" stroke-width="1.05"/>
<path d="M296.5,292.5 L312.2,267.6 L322.2,249.9 L324.2,233.5 Q326.7,229.8 329.3,233.5 L328.6,245 L325.7,252.1 L316.8,269.8 L301.5,297 Z" fill="#45250f"/>
<path d="M358,225.2 C356.8,223.9 354.8,219.5 350.8,217.4 C346.9,215.3 339.8,212.3 334.3,212.5 C328.8,212.7 322,215.7 317.7,218.5 C313.4,221.3 309.9,227.8 308.4,229.6 L308.4,229.6 C310.9,230 318.1,232.4 323.3,231.8 C328.5,231.2 334,227.4 339.8,226.3 C345.6,225.2 355,225.4 358,225.2 Z" fill="#2b6e2b" stroke="#19401a" stroke-width="1.05"/>
<path d="M355.8,259.9 C355,259 353.5,256.1 350.8,254.3 C348.1,252.6 343.5,249.8 339.8,249.4 C336.1,249 332.4,250 328.8,252.1 C325.2,254.2 320.1,260.4 318.3,262 L318.3,262 C321,262 329.8,262.4 334.3,262 C338.8,261.6 341.7,260.2 345.3,259.9 C348.9,259.5 354.1,259.9 355.8,259.9 Z" fill="#2b6e2b" stroke="#19401a" stroke-width="1.05"/>
<path d="M369.6,273.1 C367,271.2 358.6,263.3 354.2,261.5 C349.8,259.7 346.8,260.7 343.1,262.1 C339.4,263.5 333.9,268.5 332.1,269.8 L332.1,269.8 C333.6,270.7 337.2,274.8 340.9,275.3 C344.6,275.9 349.4,273.5 354.2,273.1 C359,272.7 367,273.1 369.6,273.1 Z" fill="#2b6e2b" stroke="#19401a" stroke-width="1.05"/>
<path d="M350.3,288.5 C347.3,287.3 337.4,282.3 332.1,281.4 C326.9,280.5 322.9,281.4 318.8,283 C314.8,284.6 309.6,289.4 307.8,290.7 L307.8,290.7 C309.6,291.6 314.8,295.4 318.8,296.3 C322.9,297.2 326.9,297.6 332.1,296.3 C337.4,295 347.3,289.8 350.3,288.5 Z" fill="#2b6e2b" stroke="#19401a" stroke-width="1.05"/>
<path d="M246,202 C249.7,203.8 261.3,208.8 268.1,213 C274.9,217.2 281.8,221.7 286.9,227.4 C292,233.1 297,243.9 299,247.2 M252.7,208.6 C253.8,209.1 256.8,210.8 259,211.5 C261.2,212.2 264.8,212.3 265.9,212.5 M265.3,221.3 C266.4,221.6 269.8,222.7 272,223 C274.2,223.3 277.5,223 278.6,223 M272,230.7 C273.2,231.2 276.5,232.9 279,233.5 C281.5,234.1 285.6,234.3 286.9,234.5 M269.8,206.4 C270.1,207 271.3,208.7 271.5,210 C271.7,211.3 271,213.4 270.9,214.1 M279.7,211.9 C280.2,212.7 281.9,214.8 282.5,216.5 C283.1,218.2 283.3,221 283.5,221.9 M291.3,224.1 C291.6,225.1 292.8,228 293.2,230 C293.6,232 293.4,235.2 293.5,236.2 M246,253.5 C248.7,255.2 257,259.8 262,264 C267,268.2 272,273.8 276,278.5 C280,283.2 283.3,287.6 286,292 C288.7,296.4 291.3,302.9 292.4,305.1 M251.5,262.1 C252.5,262.5 255.5,263.9 257.5,264.5 C259.5,265.1 262.7,265.2 263.7,265.4 M262.1,274.7 C262.9,275.2 265,276.9 267,277.5 C269,278.1 273.1,278.3 274.3,278.5 M268.9,285.7 C270.1,286.3 273.4,288.6 276,289.5 C278.6,290.4 283,290.8 284.4,291.1 M266.8,258.4 C267.2,259.2 268.5,261.2 269,263 C269.5,264.8 269.6,267.9 269.7,268.9 M276.8,264.2 C277.4,265.5 279.6,269.2 280.5,272 C281.4,274.8 282,279.5 282.3,281 M288.2,279 C288.5,280.1 289.6,283.2 290,285.5 C290.4,287.8 290.2,291.6 290.3,292.8 M311,227.5 C313.5,226.5 320.8,222.8 326,221.5 C331.2,220.2 336.8,219 342,219.5 C347.2,220 354.5,223.7 357,224.5 M325,221 C325.2,220.2 325.5,217.3 326.5,216 C327.5,214.7 330.2,213.5 331,213 M334,219.5 C335,219.6 338,219.5 340,220 C342,220.5 345,222.1 346,222.5 M316,226 C317.3,226.1 321.2,226.7 324,226.5 C326.8,226.3 331.5,225.2 333,225 M319,261.5 C321.3,260.8 328.5,257.8 333,257 C337.5,256.2 342.3,256.6 346,257 C349.7,257.4 353.5,259.1 355,259.5 M330,258 C330.2,257.2 330.2,254.2 331,253 C331.8,251.8 334.3,251.3 335,251 M338,256.5 C339,256.4 342.2,255.9 344,256 C345.8,256.1 348.2,256.8 349,257 M333,269 C335.5,268.5 343.5,266.3 348,266 C352.5,265.7 356.5,265.9 360,267 C363.5,268.1 367.5,271.6 369,272.5 M344,266.5 C344.3,265.9 345,263.8 346,263 C347,262.2 349.3,262.2 350,262 M352,266.5 C353,266.7 357,267.3 358,267.5 M309,290.7 C311.7,290.4 318.2,289.1 325,288.8 C331.8,288.5 345.7,288.8 349.8,288.8 M315,290.5 C315.8,289.6 317.7,285.9 319.5,285 C321.3,284.1 324.9,284.8 326,284.8 M323,290 C323.7,289.3 325.5,286.5 327,285.8 C328.5,285.1 331.2,285.8 332,285.8 M333,290 C333.7,289.1 335.8,285.7 337,284.8 C338.2,283.9 339.5,284.6 340,284.5 M301,272 C302.5,269.8 306.4,263.8 310,259 C313.6,254.2 320.4,245.7 322.5,243 M306,262 C306.8,261.7 310.2,260.3 311,260 M290,190 C291.7,192.2 297.3,197.7 300,203 C302.7,208.3 305,218.8 306,222 M314,182 C314.1,185 315.1,193.8 314.5,200 C313.9,206.2 311.2,215.8 310.5,219" fill="none" stroke="#72a034" stroke-width="1.15"/><path d="M215,342.3 C218.2,341.2 228.2,335.8 234.2,335.9 C240.2,336 244.6,343.1 251.2,343 C257.8,342.9 267.3,335.9 273.9,335.2 C280.5,334.5 285.2,337.5 290.9,338.8 C296.6,340.1 301.3,343.7 307.9,343 C314.5,342.3 321.6,333.9 330.6,334.5 C339.6,335.1 356.6,344.6 361.8,346.6" fill="none" stroke="#7a4a1e" stroke-width="1.9"/>
<path d="M293.8,328 C293.8,330.8 293.7,341.8 293.7,344.5" fill="none" stroke="#45250f" stroke-width="5.6" stroke-linecap="round" stroke-linejoin="round"/>
<path d="M293.7,344.5 C292.3,345.8 288,350.5 285.2,352.3 C282.4,354.1 280,355 276.7,355.1 C273.4,355.2 268.5,352.3 265.4,353 C262.3,353.7 259.5,358.2 258.3,359.3" fill="none" stroke="#45250f" stroke-width="3.6" stroke-linecap="round" stroke-linejoin="round"/>
<path d="M292.3,347.3 C290.7,349.2 285.7,356.2 282.4,358.6 C279.1,361 275.3,360.6 272.5,361.5 C269.7,362.4 267.5,362.4 265.4,364.3 C263.3,366.2 260.2,370.2 259.7,372.8 C259.2,375.4 262,378.7 262.5,379.9" fill="none" stroke="#45250f" stroke-width="3.4" stroke-linecap="round" stroke-linejoin="round"/>
<path d="M295.3,345.9 C296.9,347.4 299.2,353.3 305.1,355.1 C311,356.9 325.6,355.7 330.6,356.5 C335.6,357.3 334.2,359.5 334.9,360.1" fill="none" stroke="#45250f" stroke-width="3.4" stroke-linecap="round" stroke-linejoin="round"/>
<path d="M306.5,355.8 C307.7,357.2 311.2,361 313.6,364.3 C316,367.6 319.5,373.8 320.7,375.7" fill="none" stroke="#45250f" stroke-width="3.4" stroke-linecap="round" stroke-linejoin="round"/>
<path d="M279.8,360 C277.9,360.5 272,362 268.2,362.9 C264.4,363.8 259.5,364.7 256.9,365.3 C254.3,365.9 254.9,364.8 252.6,366.4 C250.4,368 244.9,373.5 243.4,374.9" fill="none" stroke="#45250f" stroke-width="1.7" stroke-linecap="round"/>
<path d="M282.8,360 C281.6,361.2 277.5,364.4 275.3,367.1 C273.1,369.8 270.6,374.8 269.6,376.4" fill="none" stroke="#45250f" stroke-width="1.7" stroke-linecap="round"/>
<path d="M293.7,354.4 C292.5,355.8 288.9,358.8 286.7,362.9 C284.5,367 281.4,376.5 280.3,379.2" fill="none" stroke="#45250f" stroke-width="1.7" stroke-linecap="round"/>
<path d="M286.3,359.5 C286.6,361.2 287.6,367.8 287.8,369.5" fill="none" stroke="#45250f" stroke-width="1.7" stroke-linecap="round"/>
<path d="M296.6,349.5 C296.5,353.1 296.2,365.1 295.9,371.4 C295.6,377.6 294.7,384.4 294.5,387" fill="none" stroke="#45250f" stroke-width="1.7" stroke-linecap="round"/>
<path d="M313.6,361.5 C315.7,362.2 322.4,364.5 326.4,365.7 C330.4,366.9 335.1,366.5 337.7,368.6 C340.3,370.7 341.3,376.9 342,378.5" fill="none" stroke="#45250f" stroke-width="1.7" stroke-linecap="round"/>
<path d="M296.6,365.7 C298,366.9 302.3,371.1 305.1,372.8 C307.9,374.5 311.2,374.5 313.6,375.7 C316,376.9 318.4,379.2 319.3,379.9" fill="none" stroke="#45250f" stroke-width="1.7" stroke-linecap="round"/>
<path d="M307.9,358.6 C307.7,360.5 306.7,368.1 306.5,370" fill="none" stroke="#45250f" stroke-width="1.7" stroke-linecap="round"/>
<path d="M310.8,360.1 C310.7,361.8 310.2,368.4 310.1,370" fill="none" stroke="#45250f" stroke-width="1.7" stroke-linecap="round"/>
<path d="M312.2,360.1 C312.4,361.5 313.4,367.2 313.6,368.6" fill="none" stroke="#45250f" stroke-width="1.7" stroke-linecap="round"/></g>
<circle cx="269.5" cy="374.2" r="29.5" fill="none" stroke="#111" stroke-width="0.9"/>
<path d="M274.5,391 L274.5,423" stroke="#000" stroke-width="1.4" marker-end="url(#ah)"/>
<circle cx="501.3" cy="378" r="29.5" fill="none" stroke="#111" stroke-width="0.9"/>
<path d="M505.5,391 L505.5,423" stroke="#000" stroke-width="1.4" marker-end="url(#ah)"/>
<circle cx="735.1" cy="380.3" r="29.5" fill="none" stroke="#111" stroke-width="0.9"/>
<path d="M734,391.3 L734,423.3" stroke="#000" stroke-width="1.4" marker-end="url(#ah)"/>
<circle cx="968.2" cy="376.9" r="29.5" fill="none" stroke="#111" stroke-width="0.9"/>
<path d="M970.5,392.4 L970.5,424.4" stroke="#000" stroke-width="1.4" marker-end="url(#ah)"/>
<g transform="translate(266.8,428.1) rotate(-23)"><path d="M-7,0 C-7.5,0.2 -9,1.3 -10,1.5 C-11,1.7 -12,0.8 -13,1 C-14,1.2 -15.5,2.2 -16,2.5" fill="none" stroke="#5566b0" stroke-width="0.9"/><rect x="-7" y="-2.8" width="14" height="5.6" rx="2.8" fill="#7b8ad4" stroke="#5566b0" stroke-width="0.8"/><path d="M-4,-0.8 L3,-1.2 M-3,1 L4,0.6" stroke="#ffffff" stroke-width="0.7" opacity="0.55"/></g><g transform="translate(257.7,440.7) rotate(28)"><path d="M7.2,0 C7.8,0.2 9.2,1 10.2,1 C11.2,1 12.2,-0.1 13.2,0 C14.2,0.1 15.8,1.2 16.2,1.5" fill="none" stroke="#b05a48" stroke-width="0.9"/><rect x="-7.2" y="-2.8" width="14.5" height="5.6" rx="2.8" fill="#d98672" stroke="#b05a48" stroke-width="0.8"/><path d="M-4.2,-0.8 L3.2,-1.2 M-3.2,1 L4.2,0.6" stroke="#ffffff" stroke-width="0.7" opacity="0.55"/></g><g transform="translate(274.4,438) rotate(-3)"><path d="M7,0 C7.5,-0.2 9,-0.8 10,-1 C11,-1.2 12,-1.2 13,-1.5 C14,-1.8 15.5,-2.8 16,-3" fill="none" stroke="#2a6aa8" stroke-width="0.9"/><rect x="-7" y="-2.8" width="14" height="5.6" rx="2.8" fill="#3d8fd2" stroke="#2a6aa8" stroke-width="0.8"/><path d="M-4,-0.8 L3,-1.2 M-3,1 L4,0.6" stroke="#ffffff" stroke-width="0.7" opacity="0.55"/></g><g transform="translate(265.8,453.9) rotate(0)"><path d="M-7,0 C-7.5,-0.1 -9,-0.6 -10,-0.5 C-11,-0.4 -12,0.5 -13,0.5 C-14,0.5 -15.5,-0.3 -16,-0.5" fill="none" stroke="#4b8a4a" stroke-width="0.9"/><rect x="-7" y="-2.8" width="14" height="5.6" rx="2.8" fill="#74b46e" stroke="#4b8a4a" stroke-width="0.8"/><path d="M-4,-0.8 L3,-1.2 M-3,1 L4,0.6" stroke="#ffffff" stroke-width="0.7" opacity="0.55"/></g><g transform="translate(279.8,454.9) rotate(-55)"><path d="M7,0 C7.5,0.2 9,1.2 10,1 C11,0.8 12,-1 13,-1 C14,-1 15.5,0.7 16,1" fill="none" stroke="#9c7e48" stroke-width="0.9"/><rect x="-7" y="-2.8" width="14" height="5.6" rx="2.8" fill="#cba96c" stroke="#9c7e48" stroke-width="0.8"/><path d="M-4,-0.8 L3,-1.2 M-3,1 L4,0.6" stroke="#ffffff" stroke-width="0.7" opacity="0.55"/></g>
<g transform="translate(304.5,428.1) rotate(-20)"><path d="M-7,0 C-7.5,0.2 -9,1.4 -10,1.5 C-11,1.6 -12,0.4 -13,0.5 C-14,0.6 -15.5,1.8 -16,2" fill="none" stroke="#c077b0" stroke-width="0.9"/><rect x="-7" y="-2.8" width="14" height="5.6" rx="2.8" fill="#e39fd0" stroke="#c077b0" stroke-width="0.8"/><path d="M-4,-0.8 L3,-1.2 M-3,1 L4,0.6" stroke="#ffffff" stroke-width="0.7" opacity="0.55"/></g><g transform="translate(297.9,441.1) rotate(35)"><path d="M7,0 C7.5,0.1 9,0.5 10,0.5 C11,0.5 12,-0.1 13,0 C14,0.1 15.5,0.8 16,1" fill="none" stroke="#8a68b8" stroke-width="0.9"/><rect x="-7" y="-2.8" width="14" height="5.6" rx="2.8" fill="#b08fd6" stroke="#8a68b8" stroke-width="0.8"/><path d="M-4,-0.8 L3,-1.2 M-3,1 L4,0.6" stroke="#ffffff" stroke-width="0.7" opacity="0.55"/></g><g transform="translate(312.5,438) rotate(-3)"><path d="M7,0 C7.5,-0.1 9,-0.3 10,-0.5 C11,-0.7 12,-0.8 13,-1 C14,-1.2 15.5,-1.8 16,-2" fill="none" stroke="#7450a0" stroke-width="0.9"/><rect x="-7" y="-2.8" width="14" height="5.6" rx="2.8" fill="#9a6cc0" stroke="#7450a0" stroke-width="0.8"/><path d="M-4,-0.8 L3,-1.2 M-3,1 L4,0.6" stroke="#ffffff" stroke-width="0.7" opacity="0.55"/></g><g transform="translate(304.2,453.3) rotate(0)"><path d="M-7,0 C-7.5,0.1 -9,0.6 -10,0.5 C-11,0.4 -12,-0.5 -13,-0.5 C-14,-0.5 -15.5,0.3 -16,0.5" fill="none" stroke="#c06a8c" stroke-width="0.9"/><rect x="-7" y="-2.8" width="14" height="5.6" rx="2.8" fill="#e893b4" stroke="#c06a8c" stroke-width="0.8"/><path d="M-4,-0.8 L3,-1.2 M-3,1 L4,0.6" stroke="#ffffff" stroke-width="0.7" opacity="0.55"/></g><g transform="translate(318.4,455.3) rotate(-58)"><path d="M7,0 C7.5,0.2 9,1.2 10,1 C11,0.8 12,-1 13,-1 C14,-1 15.5,0.7 16,1" fill="none" stroke="#2a6aa8" stroke-width="0.9"/><rect x="-7" y="-2.8" width="14" height="5.6" rx="2.8" fill="#3d8fd2" stroke="#2a6aa8" stroke-width="0.8"/><path d="M-4,-0.8 L3,-1.2 M-3,1 L4,0.6" stroke="#ffffff" stroke-width="0.7" opacity="0.55"/></g>
<g transform="translate(482,431.9) rotate(-23)"><path d="M-7,0 C-7.5,0.2 -9,1.3 -10,1.5 C-11,1.7 -12,0.8 -13,1 C-14,1.2 -15.5,2.2 -16,2.5" fill="none" stroke="#5566b0" stroke-width="0.9"/><rect x="-7" y="-2.8" width="14" height="5.6" rx="2.8" fill="#7b8ad4" stroke="#5566b0" stroke-width="0.8"/><path d="M-4,-0.8 L3,-1.2 M-3,1 L4,0.6" stroke="#ffffff" stroke-width="0.7" opacity="0.55"/></g><g transform="translate(472.9,444.5) rotate(28)"><path d="M7.2,0 C7.8,0.2 9.2,1 10.2,1 C11.2,1 12.2,-0.1 13.2,0 C14.2,0.1 15.8,1.2 16.2,1.5" fill="none" stroke="#b05a48" stroke-width="0.9"/><rect x="-7.2" y="-2.8" width="14.5" height="5.6" rx="2.8" fill="#d98672" stroke="#b05a48" stroke-width="0.8"/><path d="M-4.2,-0.8 L3.2,-1.2 M-3.2,1 L4.2,0.6" stroke="#ffffff" stroke-width="0.7" opacity="0.55"/></g><g transform="translate(489.6,441.8) rotate(-3)"><path d="M7,0 C7.5,-0.2 9,-0.8 10,-1 C11,-1.2 12,-1.2 13,-1.5 C14,-1.8 15.5,-2.8 16,-3" fill="none" stroke="#2a6aa8" stroke-width="0.9"/><rect x="-7" y="-2.8" width="14" height="5.6" rx="2.8" fill="#3d8fd2" stroke="#2a6aa8" stroke-width="0.8"/><path d="M-4,-0.8 L3,-1.2 M-3,1 L4,0.6" stroke="#ffffff" stroke-width="0.7" opacity="0.55"/></g><g transform="translate(481,457.7) rotate(0)"><path d="M-7,0 C-7.5,-0.1 -9,-0.6 -10,-0.5 C-11,-0.4 -12,0.5 -13,0.5 C-14,0.5 -15.5,-0.3 -16,-0.5" fill="none" stroke="#4b8a4a" stroke-width="0.9"/><rect x="-7" y="-2.8" width="14" height="5.6" rx="2.8" fill="#74b46e" stroke="#4b8a4a" stroke-width="0.8"/><path d="M-4,-0.8 L3,-1.2 M-3,1 L4,0.6" stroke="#ffffff" stroke-width="0.7" opacity="0.55"/></g><g transform="translate(495,458.7) rotate(-55)"><path d="M7,0 C7.5,0.2 9,1.2 10,1 C11,0.8 12,-1 13,-1 C14,-1 15.5,0.7 16,1" fill="none" stroke="#9c7e48" stroke-width="0.9"/><rect x="-7" y="-2.8" width="14" height="5.6" rx="2.8" fill="#cba96c" stroke="#9c7e48" stroke-width="0.8"/><path d="M-4,-0.8 L3,-1.2 M-3,1 L4,0.6" stroke="#ffffff" stroke-width="0.7" opacity="0.55"/></g>
<g transform="translate(520.5,431.9) rotate(-20)"><path d="M-7,0 C-7.5,0.2 -9,1.4 -10,1.5 C-11,1.6 -12,0.4 -13,0.5 C-14,0.6 -15.5,1.8 -16,2" fill="none" stroke="#c077b0" stroke-width="0.9"/><rect x="-7" y="-2.8" width="14" height="5.6" rx="2.8" fill="#e39fd0" stroke="#c077b0" stroke-width="0.8"/><path d="M-4,-0.8 L3,-1.2 M-3,1 L4,0.6" stroke="#ffffff" stroke-width="0.7" opacity="0.55"/></g><g transform="translate(513.9,444.9) rotate(35)"><path d="M7,0 C7.5,0.1 9,0.5 10,0.5 C11,0.5 12,-0.1 13,0 C14,0.1 15.5,0.8 16,1" fill="none" stroke="#8a68b8" stroke-width="0.9"/><rect x="-7" y="-2.8" width="14" height="5.6" rx="2.8" fill="#b08fd6" stroke="#8a68b8" stroke-width="0.8"/><path d="M-4,-0.8 L3,-1.2 M-3,1 L4,0.6" stroke="#ffffff" stroke-width="0.7" opacity="0.55"/></g><g transform="translate(528.5,441.8) rotate(-3)"><path d="M7,0 C7.5,-0.1 9,-0.3 10,-0.5 C11,-0.7 12,-0.8 13,-1 C14,-1.2 15.5,-1.8 16,-2" fill="none" stroke="#7450a0" stroke-width="0.9"/><rect x="-7" y="-2.8" width="14" height="5.6" rx="2.8" fill="#9a6cc0" stroke="#7450a0" stroke-width="0.8"/><path d="M-4,-0.8 L3,-1.2 M-3,1 L4,0.6" stroke="#ffffff" stroke-width="0.7" opacity="0.55"/></g><g transform="translate(520.2,457.1) rotate(0)"><path d="M-7,0 C-7.5,0.1 -9,0.6 -10,0.5 C-11,0.4 -12,-0.5 -13,-0.5 C-14,-0.5 -15.5,0.3 -16,0.5" fill="none" stroke="#c06a8c" stroke-width="0.9"/><rect x="-7" y="-2.8" width="14" height="5.6" rx="2.8" fill="#e893b4" stroke="#c06a8c" stroke-width="0.8"/><path d="M-4,-0.8 L3,-1.2 M-3,1 L4,0.6" stroke="#ffffff" stroke-width="0.7" opacity="0.55"/></g><g transform="translate(534.4,459.1) rotate(-58)"><path d="M7,0 C7.5,0.2 9,1.2 10,1 C11,0.8 12,-1 13,-1 C14,-1 15.5,0.7 16,1" fill="none" stroke="#2a6aa8" stroke-width="0.9"/><rect x="-7" y="-2.8" width="14" height="5.6" rx="2.8" fill="#3d8fd2" stroke="#2a6aa8" stroke-width="0.8"/><path d="M-4,-0.8 L3,-1.2 M-3,1 L4,0.6" stroke="#ffffff" stroke-width="0.7" opacity="0.55"/></g>
<g transform="translate(558.4,430.4) rotate(-23)"><path d="M-7,0 C-7.5,0.2 -9,1.3 -10,1.5 C-11,1.7 -12,0.8 -13,1 C-14,1.2 -15.5,2.2 -16,2.5" fill="none" stroke="#5566b0" stroke-width="0.9"/><rect x="-7" y="-2.8" width="14" height="5.6" rx="2.8" fill="#7b8ad4" stroke="#5566b0" stroke-width="0.8"/><path d="M-4,-0.8 L3,-1.2 M-3,1 L4,0.6" stroke="#ffffff" stroke-width="0.7" opacity="0.55"/></g><g transform="translate(549.3,443) rotate(28)"><path d="M7.2,0 C7.8,0.2 9.2,1 10.2,1 C11.2,1 12.2,-0.1 13.2,0 C14.2,0.1 15.8,1.2 16.2,1.5" fill="none" stroke="#b05a48" stroke-width="0.9"/><rect x="-7.2" y="-2.8" width="14.5" height="5.6" rx="2.8" fill="#d98672" stroke="#b05a48" stroke-width="0.8"/><path d="M-4.2,-0.8 L3.2,-1.2 M-3.2,1 L4.2,0.6" stroke="#ffffff" stroke-width="0.7" opacity="0.55"/></g><g transform="translate(566,440.3) rotate(-3)"><path d="M7,0 C7.5,-0.2 9,-0.8 10,-1 C11,-1.2 12,-1.2 13,-1.5 C14,-1.8 15.5,-2.8 16,-3" fill="none" stroke="#2a6aa8" stroke-width="0.9"/><rect x="-7" y="-2.8" width="14" height="5.6" rx="2.8" fill="#3d8fd2" stroke="#2a6aa8" stroke-width="0.8"/><path d="M-4,-0.8 L3,-1.2 M-3,1 L4,0.6" stroke="#ffffff" stroke-width="0.7" opacity="0.55"/></g><g transform="translate(557.4,456.2) rotate(0)"><path d="M-7,0 C-7.5,-0.1 -9,-0.6 -10,-0.5 C-11,-0.4 -12,0.5 -13,0.5 C-14,0.5 -15.5,-0.3 -16,-0.5" fill="none" stroke="#4b8a4a" stroke-width="0.9"/><rect x="-7" y="-2.8" width="14" height="5.6" rx="2.8" fill="#74b46e" stroke="#4b8a4a" stroke-width="0.8"/><path d="M-4,-0.8 L3,-1.2 M-3,1 L4,0.6" stroke="#ffffff" stroke-width="0.7" opacity="0.55"/></g><g transform="translate(571.4,457.2) rotate(-55)"><path d="M7,0 C7.5,0.2 9,1.2 10,1 C11,0.8 12,-1 13,-1 C14,-1 15.5,0.7 16,1" fill="none" stroke="#9c7e48" stroke-width="0.9"/><rect x="-7" y="-2.8" width="14" height="5.6" rx="2.8" fill="#cba96c" stroke="#9c7e48" stroke-width="0.8"/><path d="M-4,-0.8 L3,-1.2 M-3,1 L4,0.6" stroke="#ffffff" stroke-width="0.7" opacity="0.55"/></g>
<g transform="translate(717.5,430.4) rotate(-23)"><path d="M-7,0 C-7.5,0.2 -9,1.3 -10,1.5 C-11,1.7 -12,0.8 -13,1 C-14,1.2 -15.5,2.2 -16,2.5" fill="none" stroke="#5566b0" stroke-width="0.9"/><rect x="-7" y="-2.8" width="14" height="5.6" rx="2.8" fill="#7b8ad4" stroke="#5566b0" stroke-width="0.8"/><path d="M-4,-0.8 L3,-1.2 M-3,1 L4,0.6" stroke="#ffffff" stroke-width="0.7" opacity="0.55"/></g><g transform="translate(708.4,443) rotate(28)"><path d="M7.2,0 C7.8,0.2 9.2,1 10.2,1 C11.2,1 12.2,-0.1 13.2,0 C14.2,0.1 15.8,1.2 16.2,1.5" fill="none" stroke="#b05a48" stroke-width="0.9"/><rect x="-7.2" y="-2.8" width="14.5" height="5.6" rx="2.8" fill="#d98672" stroke="#b05a48" stroke-width="0.8"/><path d="M-4.2,-0.8 L3.2,-1.2 M-3.2,1 L4.2,0.6" stroke="#ffffff" stroke-width="0.7" opacity="0.55"/></g><g transform="translate(725.1,440.3) rotate(-3)"><path d="M7,0 C7.5,-0.2 9,-0.8 10,-1 C11,-1.2 12,-1.2 13,-1.5 C14,-1.8 15.5,-2.8 16,-3" fill="none" stroke="#2a6aa8" stroke-width="0.9"/><rect x="-7" y="-2.8" width="14" height="5.6" rx="2.8" fill="#3d8fd2" stroke="#2a6aa8" stroke-width="0.8"/><path d="M-4,-0.8 L3,-1.2 M-3,1 L4,0.6" stroke="#ffffff" stroke-width="0.7" opacity="0.55"/></g><g transform="translate(716.5,456.2) rotate(0)"><path d="M-7,0 C-7.5,-0.1 -9,-0.6 -10,-0.5 C-11,-0.4 -12,0.5 -13,0.5 C-14,0.5 -15.5,-0.3 -16,-0.5" fill="none" stroke="#4b8a4a" stroke-width="0.9"/><rect x="-7" y="-2.8" width="14" height="5.6" rx="2.8" fill="#74b46e" stroke="#4b8a4a" stroke-width="0.8"/><path d="M-4,-0.8 L3,-1.2 M-3,1 L4,0.6" stroke="#ffffff" stroke-width="0.7" opacity="0.55"/></g><g transform="translate(730.5,457.2) rotate(-55)"><path d="M7,0 C7.5,0.2 9,1.2 10,1 C11,0.8 12,-1 13,-1 C14,-1 15.5,0.7 16,1" fill="none" stroke="#9c7e48" stroke-width="0.9"/><rect x="-7" y="-2.8" width="14" height="5.6" rx="2.8" fill="#cba96c" stroke="#9c7e48" stroke-width="0.8"/><path d="M-4,-0.8 L3,-1.2 M-3,1 L4,0.6" stroke="#ffffff" stroke-width="0.7" opacity="0.55"/></g>
<g transform="translate(751.2,427.7) rotate(-23)"><path d="M-7,0 C-7.5,0.2 -9,1.3 -10,1.5 C-11,1.7 -12,0.8 -13,1 C-14,1.2 -15.5,2.2 -16,2.5" fill="none" stroke="#5566b0" stroke-width="0.9"/><rect x="-7" y="-2.8" width="14" height="5.6" rx="2.8" fill="#7b8ad4" stroke="#5566b0" stroke-width="0.8"/><path d="M-4,-0.8 L3,-1.2 M-3,1 L4,0.6" stroke="#ffffff" stroke-width="0.7" opacity="0.55"/></g><g transform="translate(742.1,440.3) rotate(28)"><path d="M7.2,0 C7.8,0.2 9.2,1 10.2,1 C11.2,1 12.2,-0.1 13.2,0 C14.2,0.1 15.8,1.2 16.2,1.5" fill="none" stroke="#b05a48" stroke-width="0.9"/><rect x="-7.2" y="-2.8" width="14.5" height="5.6" rx="2.8" fill="#d98672" stroke="#b05a48" stroke-width="0.8"/><path d="M-4.2,-0.8 L3.2,-1.2 M-3.2,1 L4.2,0.6" stroke="#ffffff" stroke-width="0.7" opacity="0.55"/></g><g transform="translate(758.8,437.6) rotate(-3)"><path d="M7,0 C7.5,-0.2 9,-0.8 10,-1 C11,-1.2 12,-1.2 13,-1.5 C14,-1.8 15.5,-2.8 16,-3" fill="none" stroke="#2a6aa8" stroke-width="0.9"/><rect x="-7" y="-2.8" width="14" height="5.6" rx="2.8" fill="#3d8fd2" stroke="#2a6aa8" stroke-width="0.8"/><path d="M-4,-0.8 L3,-1.2 M-3,1 L4,0.6" stroke="#ffffff" stroke-width="0.7" opacity="0.55"/></g><g transform="translate(750.2,453.5) rotate(0)"><path d="M-7,0 C-7.5,-0.1 -9,-0.6 -10,-0.5 C-11,-0.4 -12,0.5 -13,0.5 C-14,0.5 -15.5,-0.3 -16,-0.5" fill="none" stroke="#4b8a4a" stroke-width="0.9"/><rect x="-7" y="-2.8" width="14" height="5.6" rx="2.8" fill="#74b46e" stroke="#4b8a4a" stroke-width="0.8"/><path d="M-4,-0.8 L3,-1.2 M-3,1 L4,0.6" stroke="#ffffff" stroke-width="0.7" opacity="0.55"/></g><g transform="translate(764.2,454.5) rotate(-55)"><path d="M7,0 C7.5,0.2 9,1.2 10,1 C11,0.8 12,-1 13,-1 C14,-1 15.5,0.7 16,1" fill="none" stroke="#9c7e48" stroke-width="0.9"/><rect x="-7" y="-2.8" width="14" height="5.6" rx="2.8" fill="#cba96c" stroke="#9c7e48" stroke-width="0.8"/><path d="M-4,-0.8 L3,-1.2 M-3,1 L4,0.6" stroke="#ffffff" stroke-width="0.7" opacity="0.55"/></g>
<g transform="translate(789.2,427.7) rotate(-20)"><path d="M-7,0 C-7.5,0.2 -9,1.4 -10,1.5 C-11,1.6 -12,0.4 -13,0.5 C-14,0.6 -15.5,1.8 -16,2" fill="none" stroke="#c077b0" stroke-width="0.9"/><rect x="-7" y="-2.8" width="14" height="5.6" rx="2.8" fill="#e39fd0" stroke="#c077b0" stroke-width="0.8"/><path d="M-4,-0.8 L3,-1.2 M-3,1 L4,0.6" stroke="#ffffff" stroke-width="0.7" opacity="0.55"/></g><g transform="translate(782.6,440.7) rotate(35)"><path d="M7,0 C7.5,0.1 9,0.5 10,0.5 C11,0.5 12,-0.1 13,0 C14,0.1 15.5,0.8 16,1" fill="none" stroke="#8a68b8" stroke-width="0.9"/><rect x="-7" y="-2.8" width="14" height="5.6" rx="2.8" fill="#b08fd6" stroke="#8a68b8" stroke-width="0.8"/><path d="M-4,-0.8 L3,-1.2 M-3,1 L4,0.6" stroke="#ffffff" stroke-width="0.7" opacity="0.55"/></g><g transform="translate(797.2,437.6) rotate(-3)"><path d="M7,0 C7.5,-0.1 9,-0.3 10,-0.5 C11,-0.7 12,-0.8 13,-1 C14,-1.2 15.5,-1.8 16,-2" fill="none" stroke="#7450a0" stroke-width="0.9"/><rect x="-7" y="-2.8" width="14" height="5.6" rx="2.8" fill="#9a6cc0" stroke="#7450a0" stroke-width="0.8"/><path d="M-4,-0.8 L3,-1.2 M-3,1 L4,0.6" stroke="#ffffff" stroke-width="0.7" opacity="0.55"/></g><g transform="translate(788.9,452.9) rotate(0)"><path d="M-7,0 C-7.5,0.1 -9,0.6 -10,0.5 C-11,0.4 -12,-0.5 -13,-0.5 C-14,-0.5 -15.5,0.3 -16,0.5" fill="none" stroke="#c06a8c" stroke-width="0.9"/><rect x="-7" y="-2.8" width="14" height="5.6" rx="2.8" fill="#e893b4" stroke="#c06a8c" stroke-width="0.8"/><path d="M-4,-0.8 L3,-1.2 M-3,1 L4,0.6" stroke="#ffffff" stroke-width="0.7" opacity="0.55"/></g><g transform="translate(803.1,454.9) rotate(-58)"><path d="M7,0 C7.5,0.2 9,1.2 10,1 C11,0.8 12,-1 13,-1 C14,-1 15.5,0.7 16,1" fill="none" stroke="#2a6aa8" stroke-width="0.9"/><rect x="-7" y="-2.8" width="14" height="5.6" rx="2.8" fill="#3d8fd2" stroke="#2a6aa8" stroke-width="0.8"/><path d="M-4,-0.8 L3,-1.2 M-3,1 L4,0.6" stroke="#ffffff" stroke-width="0.7" opacity="0.55"/></g>
<g transform="translate(941.9,436.6) rotate(28)"><path d="M7.2,0 C7.8,0.2 9.2,1 10.2,1 C11.2,1 12.2,-0.1 13.2,0 C14.2,0.1 15.8,1.2 16.2,1.5" fill="none" stroke="#b05a48" stroke-width="0.9"/><rect x="-7.2" y="-2.8" width="14.5" height="5.6" rx="2.8" fill="#d98672" stroke="#b05a48" stroke-width="0.8"/><path d="M-4.2,-0.8 L3.2,-1.2 M-3.2,1 L4.2,0.6" stroke="#ffffff" stroke-width="0.7" opacity="0.55"/></g><g transform="translate(958.6,433.9) rotate(-3)"><path d="M7,0 C7.5,-0.2 9,-0.8 10,-1 C11,-1.2 12,-1.2 13,-1.5 C14,-1.8 15.5,-2.8 16,-3" fill="none" stroke="#2a6aa8" stroke-width="0.9"/><rect x="-7" y="-2.8" width="14" height="5.6" rx="2.8" fill="#3d8fd2" stroke="#2a6aa8" stroke-width="0.8"/><path d="M-4,-0.8 L3,-1.2 M-3,1 L4,0.6" stroke="#ffffff" stroke-width="0.7" opacity="0.55"/></g><g transform="translate(950,449.8) rotate(0)"><path d="M-7,0 C-7.5,-0.1 -9,-0.6 -10,-0.5 C-11,-0.4 -12,0.5 -13,0.5 C-14,0.5 -15.5,-0.3 -16,-0.5" fill="none" stroke="#4b8a4a" stroke-width="0.9"/><rect x="-7" y="-2.8" width="14" height="5.6" rx="2.8" fill="#74b46e" stroke="#4b8a4a" stroke-width="0.8"/><path d="M-4,-0.8 L3,-1.2 M-3,1 L4,0.6" stroke="#ffffff" stroke-width="0.7" opacity="0.55"/></g><g transform="translate(964,450.8) rotate(-55)"><path d="M7,0 C7.5,0.2 9,1.2 10,1 C11,0.8 12,-1 13,-1 C14,-1 15.5,0.7 16,1" fill="none" stroke="#9c7e48" stroke-width="0.9"/><rect x="-7" y="-2.8" width="14" height="5.6" rx="2.8" fill="#cba96c" stroke="#9c7e48" stroke-width="0.8"/><path d="M-4,-0.8 L3,-1.2 M-3,1 L4,0.6" stroke="#ffffff" stroke-width="0.7" opacity="0.55"/></g>
<g transform="translate(990,424.9) rotate(-23)"><path d="M-7,0 C-7.5,0.2 -9,1.3 -10,1.5 C-11,1.7 -12,0.8 -13,1 C-14,1.2 -15.5,2.2 -16,2.5" fill="none" stroke="#5566b0" stroke-width="0.9"/><rect x="-7" y="-2.8" width="14" height="5.6" rx="2.8" fill="#7b8ad4" stroke="#5566b0" stroke-width="0.8"/><path d="M-4,-0.8 L3,-1.2 M-3,1 L4,0.6" stroke="#ffffff" stroke-width="0.7" opacity="0.55"/></g><g transform="translate(980.9,437.5) rotate(28)"><path d="M7.2,0 C7.8,0.2 9.2,1 10.2,1 C11.2,1 12.2,-0.1 13.2,0 C14.2,0.1 15.8,1.2 16.2,1.5" fill="none" stroke="#b05a48" stroke-width="0.9"/><rect x="-7.2" y="-2.8" width="14.5" height="5.6" rx="2.8" fill="#d98672" stroke="#b05a48" stroke-width="0.8"/><path d="M-4.2,-0.8 L3.2,-1.2 M-3.2,1 L4.2,0.6" stroke="#ffffff" stroke-width="0.7" opacity="0.55"/></g><g transform="translate(997.6,434.8) rotate(-3)"><path d="M7,0 C7.5,-0.2 9,-0.8 10,-1 C11,-1.2 12,-1.2 13,-1.5 C14,-1.8 15.5,-2.8 16,-3" fill="none" stroke="#2a6aa8" stroke-width="0.9"/><rect x="-7" y="-2.8" width="14" height="5.6" rx="2.8" fill="#3d8fd2" stroke="#2a6aa8" stroke-width="0.8"/><path d="M-4,-0.8 L3,-1.2 M-3,1 L4,0.6" stroke="#ffffff" stroke-width="0.7" opacity="0.55"/></g><g transform="translate(989,450.7) rotate(0)"><path d="M-7,0 C-7.5,-0.1 -9,-0.6 -10,-0.5 C-11,-0.4 -12,0.5 -13,0.5 C-14,0.5 -15.5,-0.3 -16,-0.5" fill="none" stroke="#4b8a4a" stroke-width="0.9"/><rect x="-7" y="-2.8" width="14" height="5.6" rx="2.8" fill="#74b46e" stroke="#4b8a4a" stroke-width="0.8"/><path d="M-4,-0.8 L3,-1.2 M-3,1 L4,0.6" stroke="#ffffff" stroke-width="0.7" opacity="0.55"/></g><g transform="translate(1003,451.7) rotate(-55)"><path d="M7,0 C7.5,0.2 9,1.2 10,1 C11,0.8 12,-1 13,-1 C14,-1 15.5,0.7 16,1" fill="none" stroke="#9c7e48" stroke-width="0.9"/><rect x="-7" y="-2.8" width="14" height="5.6" rx="2.8" fill="#cba96c" stroke="#9c7e48" stroke-width="0.8"/><path d="M-4,-0.8 L3,-1.2 M-3,1 L4,0.6" stroke="#ffffff" stroke-width="0.7" opacity="0.55"/></g>
<g transform="translate(1028.7,424.9) rotate(-20)"><path d="M-7,0 C-7.5,0.2 -9,1.4 -10,1.5 C-11,1.6 -12,0.4 -13,0.5 C-14,0.6 -15.5,1.8 -16,2" fill="none" stroke="#c077b0" stroke-width="0.9"/><rect x="-7" y="-2.8" width="14" height="5.6" rx="2.8" fill="#e39fd0" stroke="#c077b0" stroke-width="0.8"/><path d="M-4,-0.8 L3,-1.2 M-3,1 L4,0.6" stroke="#ffffff" stroke-width="0.7" opacity="0.55"/></g><g transform="translate(1022.1,437.9) rotate(35)"><path d="M7,0 C7.5,0.1 9,0.5 10,0.5 C11,0.5 12,-0.1 13,0 C14,0.1 15.5,0.8 16,1" fill="none" stroke="#8a68b8" stroke-width="0.9"/><rect x="-7" y="-2.8" width="14" height="5.6" rx="2.8" fill="#b08fd6" stroke="#8a68b8" stroke-width="0.8"/><path d="M-4,-0.8 L3,-1.2 M-3,1 L4,0.6" stroke="#ffffff" stroke-width="0.7" opacity="0.55"/></g><g transform="translate(1036.7,434.8) rotate(-3)"><path d="M7,0 C7.5,-0.1 9,-0.3 10,-0.5 C11,-0.7 12,-0.8 13,-1 C14,-1.2 15.5,-1.8 16,-2" fill="none" stroke="#7450a0" stroke-width="0.9"/><rect x="-7" y="-2.8" width="14" height="5.6" rx="2.8" fill="#9a6cc0" stroke="#7450a0" stroke-width="0.8"/><path d="M-4,-0.8 L3,-1.2 M-3,1 L4,0.6" stroke="#ffffff" stroke-width="0.7" opacity="0.55"/></g><g transform="translate(1028.4,450.1) rotate(0)"><path d="M-7,0 C-7.5,0.1 -9,0.6 -10,0.5 C-11,0.4 -12,-0.5 -13,-0.5 C-14,-0.5 -15.5,0.3 -16,0.5" fill="none" stroke="#c06a8c" stroke-width="0.9"/><rect x="-7" y="-2.8" width="14" height="5.6" rx="2.8" fill="#e893b4" stroke="#c06a8c" stroke-width="0.8"/><path d="M-4,-0.8 L3,-1.2 M-3,1 L4,0.6" stroke="#ffffff" stroke-width="0.7" opacity="0.55"/></g><g transform="translate(1042.6,452.1) rotate(-58)"><path d="M7,0 C7.5,0.2 9,1.2 10,1 C11,0.8 12,-1 13,-1 C14,-1 15.5,0.7 16,1" fill="none" stroke="#2a6aa8" stroke-width="0.9"/><rect x="-7" y="-2.8" width="14" height="5.6" rx="2.8" fill="#3d8fd2" stroke="#2a6aa8" stroke-width="0.8"/><path d="M-4,-0.8 L3,-1.2 M-3,1 L4,0.6" stroke="#ffffff" stroke-width="0.7" opacity="0.55"/></g>
<circle cx="307.8" cy="440.7" r="16.6" fill="none" stroke="#ff0000" stroke-width="3.8" stroke-dasharray="8.6,4"/>
<circle cx="563.5" cy="443.7" r="16.6" fill="none" stroke="#ff0000" stroke-width="3.8" stroke-dasharray="8.6,4"/>
<circle cx="709.2" cy="443.1" r="16.6" fill="none" stroke="#ff0000" stroke-width="3.8" stroke-dasharray="8.6,4"/>
<circle cx="947.6" cy="443.1" r="16.6" fill="none" stroke="#ff0000" stroke-width="3.8" stroke-dasharray="8.6,4"/>
<g fill="none" stroke="#93b752" stroke-width="1.35">
<path d="M305.4,453.4 C322.4,454.3 381.3,455.9 407.2,458.8 C433.1,461.7 450.1,467.2 460.8,470.8 C471.5,474.4 462.6,476.6 471.5,480.2 C480.4,483.8 498.3,489.4 514.4,492.3 C530.5,495.2 550.1,496.6 568,497.6 C585.9,498.7 613,498.4 622,498.6" marker-end="url(#gah)"/>
<path d="M572.7,436 C573.6,438.5 574.9,445.9 577.8,450.9 C580.7,455.9 586,462.8 590,466.2 C594,469.6 597.3,469.1 602,471.5 C606.7,473.9 614.5,477 618.4,480.6 C622.2,484.2 623.8,489.5 625.1,493.4 C626.5,497.2 626.3,502 626.5,503.7" marker-end="url(#gah)"/>
<path d="M707.6,435.4 C707,437.8 705.6,445.7 704,450 C702.4,454.3 701,458.1 697.7,461.3 C694.4,464.5 689.4,466.7 684.4,469 C679.4,471.3 671.9,473.1 668,475 C664.1,476.9 663,477.4 660.9,480.6 C658.8,483.8 656.4,490.2 655.2,494.1 C654,498 653.8,502.4 653.5,504" marker-end="url(#gah)"/>
<path d="M950,446.4 C936.6,447.2 892.9,447.7 869.5,451 C846.1,454.3 821.1,461.5 809.6,466 C798.1,470.5 808.2,473.2 800.7,477.9 C793.2,482.6 789.2,490 764.7,494.4 C740.2,498.8 672.3,502.7 653.8,504.4" marker-end="url(#gah)"/>
</g>
<g filter="url(#shad)">
<path d="M140.8,378.5 L214,378.5" stroke="#9bbb59" stroke-width="3.3"/>
<path d="M212.5,373.3 L223.6,378.5 L212.5,383.8 Z" fill="#9bbb59"/>
<path d="M143.6,381 L143.6,872 L286.7,872" stroke="#9bbb59" stroke-width="3.3" fill="none"/>
<path d="M1125.1,375.5 L1066,375.5" stroke="#9bbb59" stroke-width="3.3"/>
<path d="M1067.5,370.8 L1056.9,375.5 L1067.5,381 Z" fill="#9bbb59"/>
<path d="M1123.2,379 L1123.2,853.5 L1003,853.5" stroke="#9bbb59" stroke-width="3.3" fill="none"/>
</g>
<text x="166.1" y="855.1" font-size="24" font-weight="bold" fill="#953735">Uptake</text>
<text x="1021" y="836.6" font-size="24" font-weight="bold" fill="#953735">Uptake</text>
<circle cx="641.1" cy="605.5" r="93" fill="#eeebe0" stroke="#c9c19b" stroke-width="3" stroke-dasharray="8,5"/>
<g filter="url(#shad)" stroke="#9bbb59" stroke-width="1.5" stroke-linejoin="round">
<path d="M466.5,538.6 C469.4,537.3 477.8,532.7 483.8,531 C489.8,529.3 495.9,527.9 502.7,528.2 C509.5,528.5 517.4,529.5 524.8,532.6 C532.1,535.7 540.5,541.8 546.8,546.8 C553.1,551.8 557.9,557 562.6,562.6 C567.3,568.2 573.1,577.7 575.2,580.7 L556.3,589.3 C554.2,586.4 548.4,577.8 543.7,572 C539,566.2 534,560 527.9,554.7 C521.8,549.5 514.8,543.4 507.4,540.5 C500,537.6 490.6,537.6 483.8,537.3 C477,537 469.4,538.6 466.5,538.9 Z" fill="#abb698"/>
<path d="M466.5,538.6 C462.8,540.8 450.7,545.7 444.4,551.5 C438.1,557.3 432.2,565.7 428.6,573.6 C425.1,581.5 424.2,592.1 423.1,598.8 C422.1,605.5 422.4,611.3 422.3,613.8 L413.7,618.5 L442,642.9 L451.5,600.4 L442.8,605.1 C442.7,602.7 441.7,596.4 442,590.9 C442.3,585.4 442.7,578 444.4,572 C446.1,566 448.6,560.2 452.3,554.7 C456,549.2 464.1,541.5 466.5,538.9 Z" fill="#d7e4bd"/>
<path d="M708.9,568.1 C712.3,564.8 722,553.9 729.4,548.4 C736.8,542.9 745.1,538.1 753,535 C760.9,531.9 768.8,529.9 776.7,529.8 C784.6,529.7 792.9,531.4 800.3,534.2 C807.6,537 817.4,544.7 820.8,546.8 L820.8,546.8 C819,546.1 814.5,543.8 809.8,542.9 C805.1,542 799.2,540.6 792.4,541.3 C785.6,541.9 776.7,543.5 768.8,546.8 C760.9,550.1 752.4,555.4 745.2,561 C738,566.6 728.8,577.4 725.5,580.7 Z" fill="#abb698"/>
<path d="M820.8,546.8 C823.4,549.2 831.9,555.5 836.6,561 C841.3,566.5 846.1,573.1 849.2,579.9 C852.4,586.7 855,593.9 855.5,602 C856,610.1 852.8,624.2 852.3,628.7 L861,634.7 L828.7,654 L826.8,610.1 L835,615.4 C835.5,611.9 838.4,601.1 838.1,594.1 C837.8,587.1 836.3,581.5 833.4,573.6 C830.5,565.7 822.9,551.3 820.8,546.8 Z" fill="#d7e4bd"/>
</g>
<path d="M636.3,563.5 Q630.5,576 626.5,595" stroke="#060b40" stroke-width="17" stroke-linecap="round" fill="none"/><path d="M636.3,563.5 Q630.5,576 626.5,595" stroke="#eeebe0" stroke-width="7.4" stroke-linecap="round" fill="none"/>
<path d="M585.5,556.5 L627.5,546.5" stroke="#060b40" stroke-width="19.5" stroke-linecap="round" fill="none"/><path d="M585.5,556.5 L627.5,546.5" stroke="#eeebe0" stroke-width="9.9" stroke-linecap="round" fill="none"/>
<path d="M607.5,577.5 Q614.5,600 634,614" stroke="#060b40" stroke-width="20" stroke-linecap="round" fill="none"/><path d="M607.5,577.5 Q614.5,600 634,614" stroke="#3344ee" stroke-width="10.4" stroke-linecap="round" fill="none"/>
<path d="M587.5,623.5 Q608,625.5 628.5,634.5" stroke="#060b40" stroke-width="19.5" stroke-linecap="round" fill="none"/><path d="M587.5,623.5 Q608,625.5 628.5,634.5" stroke="#eeebe0" stroke-width="9.9" stroke-linecap="round" fill="none"/>
<path d="M626.5,655 Q633,635 654,626.5" stroke="#060b40" stroke-width="20" stroke-linecap="round" fill="none"/><path d="M626.5,655 Q633,635 654,626.5" stroke="#3344ee" stroke-width="10.4" stroke-linecap="round" fill="none"/>
<path d="M669.5,573 Q674,584 670.5,598.5" stroke="#060b40" stroke-width="20" stroke-linecap="round" fill="none"/><path d="M669.5,573 Q674,584 670.5,598.5" stroke="#3344ee" stroke-width="10.4" stroke-linecap="round" fill="none"/>
<path d="M652.5,577.5 Q669,561 691,553" stroke="#060b40" stroke-width="19.5" stroke-linecap="round" fill="none"/><path d="M652.5,577.5 Q669,561 691,553" stroke="#eeebe0" stroke-width="9.9" stroke-linecap="round" fill="none"/>
<path d="M695.5,614 Q688,628 683,656" stroke="#060b40" stroke-width="19.5" stroke-linecap="round" fill="none"/><path d="M695.5,614 Q688,628 683,656" stroke="#eeebe0" stroke-width="9.9" stroke-linecap="round" fill="none"/>
<path d="M662,609 L693,626" stroke="#060b40" stroke-width="19.5" stroke-linecap="round" fill="none"/><path d="M662,609 L693,626" stroke="#eeebe0" stroke-width="9.9" stroke-linecap="round" fill="none"/>
<text x="599.5" y="730.9" font-size="31.5" font-weight="bold">PGPRs</text>
<ellipse cx="425.7" cy="675.3" rx="24.6" ry="23.5" fill="#fac090"/>
<ellipse cx="378.8" cy="713.7" rx="24.8" ry="23.7" fill="#8db3e2"/>
<ellipse cx="467.6" cy="715.8" rx="32.4" ry="24" fill="#ccc1da"/>
<ellipse cx="418.5" cy="746.8" rx="24.4" ry="23.8" fill="#e6b9b8"/>
<g class="sans" font-size="32" text-anchor="middle">
<text class="sans" x="427.5" y="687.8">K</text>
<text class="sans" x="378" y="723.8">N</text>
<text class="sans" x="463.8" y="727.8" textLength="47" lengthAdjust="spacingAndGlyphs">OM</text>
<text class="sans" x="420.5" y="757.6">P</text>
</g>
<path d="M415.2,776.3 L422.1,776.3 L422.1,819 L426.1,819 L418.7,826.2 L411.6,819 L415.2,819 Z" fill="#c3d69b"/>
<text x="346.3" y="848" font-size="24">NH<tspan font-size="16" dy="4.5">4</tspan><tspan font-size="16" dy="-13">+</tspan><tspan dy="8.5">、NO</tspan><tspan font-size="16" dy="4.5">3</tspan><tspan font-size="16" dy="-13">-</tspan><tspan dy="8.5">、</tspan><tspan dx="3">K</tspan><tspan font-size="16" dy="-8.5">+</tspan><tspan dy="8.5">、</tspan></text>
<text x="346.7" y="877" font-size="24">PO<tspan font-size="16" dy="4.5">4</tspan><tspan font-size="16" dy="-13">+</tspan><tspan dy="8.5">……</tspan></text>
<g transform="translate(451.3,912.1)"><path d="M0,0 L21.5,-21.5 C25.5,-25.5 30,-27 34.5,-25 L45.5,-19.5 C50,-17.5 54.5,-17.8 58.5,-21.5 L78,-40.5" fill="none" stroke="#ff4747" stroke-width="5.6"/><path d="M66.8,-51.5 L92.5,-53.4 L90.8,-27.5 Z" fill="#ff4747" stroke="#ff4747" stroke-width="3" stroke-linejoin="round"/></g>
<g transform="translate(883.7,757.6)"><path d="M0,0 L21.5,-21.5 C25.5,-25.5 30,-27 34.5,-25 L45.5,-19.5 C50,-17.5 54.5,-17.8 58.5,-21.5 L78,-40.5" fill="none" stroke="#ff4747" stroke-width="5.6"/><path d="M66.8,-51.5 L92.5,-53.4 L90.8,-27.5 Z" fill="#ff4747" stroke="#ff4747" stroke-width="3" stroke-linejoin="round"/></g>
<text x="760.8" y="693.6" font-size="24">S-CAT、S-SC、S-</text>
<text x="779.6" y="723.1" font-size="24">ACP、S-UE…</text>
<ellipse cx="828" cy="853.1" rx="176" ry="80" fill="#eeebe0" stroke="#d9d5bb" stroke-width="3" stroke-dasharray="9,5"/>
<path d="M759.8,786.3 A42,42 0 1 0 786.8,810.5 Q778,803.5 770.5,798 Q764.5,793 759.8,786.3 Z" fill="#707070"/>
<g stroke="#f2efe2" stroke-width="2" stroke-linecap="round" stroke-linecap="round">
<path d="M724.7,797.9 L726.1,799.1"/>
<path d="M741.9,802.1 L741.7,803.9"/>
<path d="M751.9,794.7 L752.7,796.3"/>
<path d="M758.6,802.1 L758,803.9"/>
<path d="M730.1,811.1 L729.5,812.7"/>
<path d="M743.9,813.2 L745.7,813.6"/>
<path d="M758.9,816.4 L760.7,816.4"/>
<path d="M769.6,810 L768,810.8"/>
<path d="M718.8,823.2 L720,824.6"/>
<path d="M727.7,824.8 L729.1,826"/>
<path d="M751.7,828.4 L749.9,828.4"/>
<path d="M770.2,830.5 L770.4,832.3"/>
<path d="M780.1,822 L778.5,822.8"/>
<path d="M716.3,838 L716.5,839.8"/>
<path d="M730.2,838.1 L729.4,839.7"/>
<path d="M745.5,840 L747.1,840.8"/>
<path d="M766.2,842.6 L765.4,844.2"/>
<path d="M781.6,837 L780,837.8"/>
<path d="M735.9,851.5 L735.7,853.3"/>
<path d="M749.9,854.7 L748.7,856.1"/>
</g>
<g fill="none" stroke="#000" stroke-width="4.1" stroke-linejoin="miter">
<polygon points="824.1,819.8 812.6,813.1 812.6,799.9 824.1,793.2 835.6,799.9 835.6,813.1"/>
<polygon points="812.6,839.8 801.1,833.1 801.1,819.8 812.6,813.2 824.1,819.8 824.1,833.1"/>
<polygon points="835.6,839.8 824.1,833.1 824.1,819.8 835.6,813.2 847.1,819.8 847.1,833.1"/>
<path d="M824.1,784 L824.1,793.2 M794.2,837.1 L801.1,833.1 M854,837.1 L847.1,833.1"/>
</g>
<g fill="none" stroke="#000" stroke-width="4.2">
<circle cx="873.5" cy="844.3" r="10.2"/><circle cx="881.4" cy="818.1" r="5.2"/><circle cx="846.7" cy="850.6" r="5.2"/><circle cx="892.4" cy="864.8" r="5.2"/>
<path d="M876.3,834 L879.8,823.3 M863.3,846.5 L851.9,849.4 M880.5,852 L888.5,860.8"/>
</g>
<text x="700.6" y="889.1" font-size="21">Humus, Organic compounds,</text>
<text x="732.6" y="914.3" font-size="21">Inorganic compounds</text>
<path d="M831.8,733 L838.3,733 L838.3,774.3 L842.6,774.3 L835,783.2 L827.8,774.3 L831.8,774.3 Z" fill="#c3d69b"/>
<path d="M965.5,886.8 L971.9,886.8 L971.9,832 L976,832 L968.7,820.9 L961.4,832 L965.5,832 Z" fill="#c00000"/>
</svg></body></html>
